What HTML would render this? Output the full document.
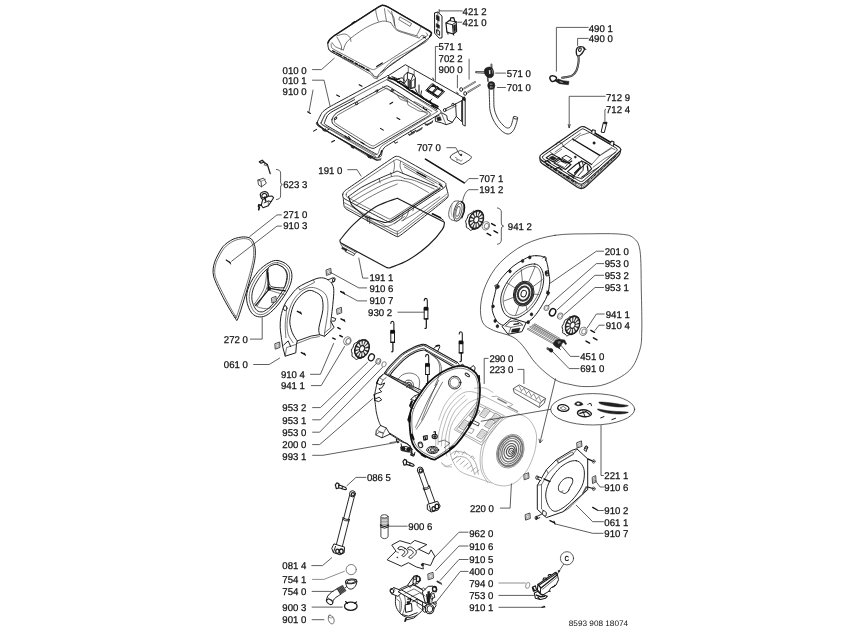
<!DOCTYPE html>
<html><head><meta charset="utf-8"><title>8593 908 18074</title>
<style>
html,body{margin:0;padding:0;background:#fff}
svg{display:block}
.t{font-family:"Liberation Sans",Arial,sans-serif;font-size:9.8px;fill:#111;stroke:#111;stroke-width:.25;text-rendering:geometricPrecision}
.t2{font-family:"Liberation Sans",Arial,sans-serif;font-size:8px;fill:#111;text-rendering:geometricPrecision}
.t3{font-family:"Liberation Sans",Arial,sans-serif;font-size:7.4px;font-weight:bold;fill:#111;text-rendering:geometricPrecision}
.p{fill:none;stroke:#1c1c1c;stroke-width:.95;stroke-linejoin:round;stroke-linecap:round}
.pw{fill:#fff;stroke:#1c1c1c;stroke-width:.95;stroke-linejoin:round;stroke-linecap:round}
.pt{fill:none;stroke:#2c2c2c;stroke-width:.65;stroke-linejoin:round;stroke-linecap:round}
.pk{fill:none;stroke:#111;stroke-width:1.5;stroke-linejoin:round;stroke-linecap:round}
.pf{fill:#222;stroke:#111;stroke-width:.5;stroke-linejoin:round}
.g{fill:none;stroke:#9a9a9a;stroke-width:.7;stroke-linejoin:round;stroke-linecap:round}
.gw{fill:#fff;stroke:#9a9a9a;stroke-width:.7;stroke-linejoin:round;stroke-linecap:round}
.l{fill:none;stroke:#2a2a2a;stroke-width:.75;stroke-linejoin:round;stroke-linecap:round}
.lg{fill:none;stroke:#6a6a6a;stroke-width:.75;stroke-linejoin:round;stroke-linecap:round}
</style></head>
<body>
<svg style="filter:grayscale(1)" width="847" height="635" viewBox="0 0 847 635">
<rect width="847" height="635" fill="#fff"/>
<path class="g" d="M491.2 482.9C488.8 482 481.6 479.6 476.4 477.6C471.1 475.7 463.9 474.3 459.8 471C455.7 467.7 453.4 463 451.5 457.8C449.7 452.6 448.6 445.7 448.9 439.6C449.2 433.5 450 427.4 453.2 421.4C456.4 415.4 462.9 407.7 468.1 403.5C473.3 399.4 481.9 397.7 484.6 396.6L521.02 414.78"/>
<path class="gw" d="M521 414.8C523.9 415.6 527.6 417.7 530.1 420.6C532.6 423.5 534.9 428.4 535.9 432.1C536.9 435.9 536.6 439.2 536.2 442.9C535.9 446.6 535.2 450.3 533.9 454.5C532.6 458.6 530.6 463.8 528.5 467.7C526.3 471.6 523.6 474.9 521 477.6C518.4 480.3 515.8 482.5 512.8 483.9C509.7 485.3 506.3 486.1 502.8 485.9C499.4 485.7 495.1 484.9 492.1 482.9C489 481 486.3 477.7 484.6 474.3C482.9 471 482.2 466.9 482 462.8C481.8 458.6 482.4 453.7 483.3 449.5C484.2 445.4 485.7 441.7 487.6 437.9C489.5 434.2 492.1 430.4 494.9 427.2C497.7 424 501.5 420.9 504.5 418.9C507.5 417 510 416.1 512.8 415.4C515.5 414.8 518.1 413.9 521 414.8Z"/>
<path class="g" d="M484.6 396.6C482.4 395.8 475.5 391.9 471.4 391.6C467.3 391.3 463.9 391.9 459.8 394.9C455.7 398 450 403.7 446.6 409.8C443.1 415.9 440.6 425.5 439.1 431.3C437.7 437.1 438.2 442.3 438 444.6"/>
<path class="g" d="M464.8 395.3C462.4 397.7 454.4 403.8 450.7 409.8C447.1 415.8 444.5 425.3 442.9 431.3C441.4 437.4 441.6 443.7 441.3 446.2"/>
<path class="g" d="M467.3 399.1C465.1 401.3 457.5 406.8 454 412.3C450.6 417.8 448 426.2 446.6 432.1C445.1 438.1 445.2 443.9 445.3 447.9C445.3 451.9 446.6 454.8 446.9 456.1"/>
<path class="g" d="M474.7 388.3C476.4 388.3 481.6 387.3 484.6 388C487.7 388.7 491.5 391.7 492.9 392.4"/>
<path class="g" d="M441.6 462.8C442.4 463.3 444.9 465.8 446.6 466.1C448.2 466.3 450.7 464.7 451.5 464.4"/>
<path class="g" d="M502.8 416.4C500.9 418.1 494.4 422.5 491.2 426.4C488.1 430.2 485.8 434.9 484 439.6C482.2 444.3 480.8 449.2 480.3 454.5C479.9 459.7 480.1 466.3 481.3 471C482.6 475.7 486.8 480.7 487.9 482.6"/>
<path class="g" d="M454.5 429.3 L476.4 402.2 L504.5 415.8 L482 444.9Z" style="stroke:#888"/>
<path class="g" d="M456.8 429 L477.2 404.9 L501.5 416.8 L481.3 442.1Z" style="stroke:#888"/>
<path class="gw" d="M459 427 L464.3 419.7 L469.6 422.7 L463.9 429.7Z" style="stroke:#777;stroke-width:0.8"/>
<path class="g" d="M460.8 426.2 L464.3 421.6 L467.6 423.4 L463.9 427.9Z" style="stroke:#aaa;stroke-width:0.5;fill:#d9d9d9"/>
<path class="gw" d="M469.4 415.4 L474.7 408.2 L480 411.1 L474.4 418.1Z" style="stroke:#777;stroke-width:0.8"/>
<path class="g" d="M471.2 414.6 L474.7 410 L478 411.8 L474.4 416.3Z" style="stroke:#aaa;stroke-width:0.5;fill:#d9d9d9"/>
<path class="gw" d="M479.7 415.1 L485 407.8 L490.2 410.8 L484.6 417.8Z" style="stroke:#777;stroke-width:0.8"/>
<path class="g" d="M481.5 414.3 L485 409.6 L488.3 411.5 L484.6 415.9Z" style="stroke:#aaa;stroke-width:0.5;fill:#d9d9d9"/>
<path class="gw" d="M489.9 420.4 L495.2 413.1 L500.5 416.1 L494.9 423.1Z" style="stroke:#777;stroke-width:0.8"/>
<path class="g" d="M491.7 419.6 L495.2 414.9 L498.5 416.8 L494.9 421.2Z" style="stroke:#aaa;stroke-width:0.5;fill:#d9d9d9"/>
<path class="gw" d="M484.6 425.7 L489.9 418.4 L495.2 421.4 L489.6 428.3Z" style="stroke:#777;stroke-width:0.8"/>
<path class="g" d="M486.4 424.9 L489.9 420.2 L493.2 422.1 L489.6 426.5Z" style="stroke:#aaa;stroke-width:0.5;fill:#d9d9d9"/>
<path class="gw" d="M476.7 436.3 L482 429 L487.3 432 L481.6 438.9Z" style="stroke:#777;stroke-width:0.8"/>
<path class="g" d="M478.5 435.4 L482 430.8 L485.3 432.6 L481.6 437.1Z" style="stroke:#aaa;stroke-width:0.5;fill:#d9d9d9"/>
<path class="g" d="M470.2 428 L474.2 429.7 L471.6 433.6 L468.6 432.3" style="stroke:#777"/>
<path class="pw" d="M473.4 420.4 L479.3 423.4 L478.3 426 L472.4 423.1Z" style="stroke:#444"/>
<path class="g" d="M492.1 396.6 L496.5 396.2 L512.8 404.5 L509.4 406.5" style="stroke:#888"/>
<path class="g" d="M497.9 398.9 L506.1 403.2" style="stroke-width:1.4;stroke:#777"/>
<path class="g" d="M507.8 406.2 L517.7 411.5" style="stroke-width:1.2;stroke:#888"/>
<ellipse class="g" cx="510.3" cy="451.2" rx="13.2" ry="17.4" transform="rotate(22 510.3 451.2)" style="stroke:#777"/>
<ellipse class="g" cx="510.3" cy="451.2" rx="11.6" ry="15.4" transform="rotate(22 510.3 451.2)" style="stroke-dasharray:0.9 0.8;stroke-width:2;stroke:#777"/>
<ellipse class="g" cx="510.3" cy="451.2" rx="9.8" ry="13.2" transform="rotate(22 510.3 451.2)" style="stroke:#666;stroke-width:0.9"/>
<ellipse class="g" cx="510.3" cy="451.2" rx="8" ry="10.8" transform="rotate(22 510.3 451.2)" style="stroke-dasharray:1.6 0.9;stroke-width:1.5;stroke:#7a7a7a"/>
<ellipse class="g" cx="510.3" cy="451.2" rx="6" ry="8" transform="rotate(22 510.3 451.2)" style="stroke:#555;stroke-width:1.1"/>
<ellipse class="g" cx="510.8" cy="451.2" rx="4.2" ry="5.4" transform="rotate(22 510.8 451.2)" style="stroke:#555;stroke-width:1.3"/>
<ellipse class="gw" cx="511.3" cy="451.2" rx="2.4" ry="3" transform="rotate(22 511.3 451.2)" style="stroke:#444;stroke-width:1.1"/>
<ellipse class="g" cx="511.7" cy="451.4" rx="1" ry="1.3" transform="rotate(22 511.7 451.4)" style="stroke:#444"/>
<path class="g" d="M450.7 454.5C451.7 453.9 453.6 451.2 456.5 451.2C459.4 451.2 464.9 452.6 468.1 454.5C471.3 456.4 473.8 459.4 475.5 462.8C477.2 466.1 477.9 472.4 478.3 474.3" style="stroke:#888"/>
<path class="g" d="M452.4 459.8C453.6 459.2 457.1 456.4 459.8 456.5C462.6 456.5 466.4 457.3 468.9 460.3C471.4 463.2 473.7 472 474.7 474.3" style="stroke:#888"/>
<path class="g" d="M452.9 459.8 L457.2 456.1" style="stroke:#888"/>
<path class="g" d="M456.5 462.1 L460.8 458.4" style="stroke:#888"/>
<path class="g" d="M460.1 464.4 L464.4 460.8" style="stroke:#888"/>
<path class="g" d="M463.8 466.7 L468.1 463.1" style="stroke:#888"/>
<path class="g" d="M467.4 469 L471.7 465.4" style="stroke:#888"/>
<path class="g" d="M471.1 471.4 L475.4 467.7" style="stroke:#888"/>
<path class="g" d="M474.7 473.7 L479 470" style="stroke:#888"/>
<path class="g" d="M454.5 454.5 L456.2 450.8 L459.1 453.2" style="stroke:#888"/>
<path class="g" d="M462.3 454.5 L464.1 451.5 L466.4 453.8" style="stroke:#888"/>
<path class="g" d="M470.6 457.8 L472.4 455.8 L474.4 458.6" style="stroke:#888"/>
<path class="g" d="M441.6 462.8C442.2 463.4 443.3 465.7 444.9 466.4C446.6 467.1 450.4 466.8 451.5 466.9"/>
<path class="p" d="M383.1 374.4C382.5 375.1 379.1 377.8 378 380.1C377 382.4 375.7 389.2 375.2 391.7C374.7 394.2 374.4 397.6 374.4 398.8C374.3 400 374.7 398.9 374.9 400.7C375.2 402.4 375.8 409.3 376.3 412C376.8 414.7 378 419 378.6 420.8C379.2 422.6 380.3 424.8 380.6 425.5"/>
<path class="p" d="M380.6 425.5 L376.3 430.4 L375.8 434.9 L382 437.8 L389.9 434.1 L397.9 439.2 L402.1 442 L407.5 443.5 L412.5 449.6"/>
<path class="p" d="M380.6 425.5 L386.2 427.9 L389.9 434.1"/>
<path class="pt" d="M377.8 430.7 L383.4 433.2 L386.2 427.9"/>
<path class="pt" d="M375.8 434.9 L379.2 432.1 L383.4 433.2 L382 437.8"/>
<path class="p" d="M383.1 374.4 L379.2 377.5 L376.6 383.2 L380.6 384.9 L384.8 382.9 L382 387.7 L378.9 388.8 L381.7 391.7 L377.8 393.1 L374.1 394.5 L375.2 399 L379.2 397.1 L381.7 399.9 L378.6 401.6 L374.9 400.5"/>
<path class="pt" d="M379.2 377.5 L383.1 380.1 L386.2 377.5"/>
<path class="pt" d="M380.6 384.9 L383.1 380.1"/>
<path class="pk" d="M376.6 383.2 L378 380.1" style="stroke-width:1.1"/>
<path class="pk" d="M374.1 394.5 L374.9 400.5" style="stroke-width:1.1"/>
<path class="p" d="M384.4 373.4C385.1 372.4 386.3 370 388.9 367.1C391.5 364.3 398.1 357.1 401.8 354.1C405.5 351.1 410.5 348.8 413.6 347.3C416.6 345.9 420.4 344.8 422.2 344.4C423.9 344 424.9 344.6 425.4 344.6" style="stroke-width:1.1"/>
<path class="p" d="M385.7 373.8C386.4 372.9 387.7 370.6 390.2 367.8C392.8 365 399.1 358 402.6 355.1C406.2 352.3 411.1 349.9 414.1 348.5C417.1 347.1 421 346.1 422.7 345.7C424.4 345.4 424.8 346.1 425.2 346.1" style="stroke-width:0.8"/>
<path class="p" d="M388.3 374.7C388.9 373.8 390.2 371.7 392.6 369.1C395 366.5 401 360 404.4 357.3C407.8 354.6 412.3 352.2 415.2 350.9C418.1 349.5 421.9 348.5 423.4 348.3C425 348.1 425.1 349.2 425.4 349.4" style="stroke-width:0.8"/>
<path class="p" d="M390 375.3C390.6 374.5 391.8 372.4 394.1 369.9C396.4 367.4 402.2 361.2 405.4 358.6C408.7 355.9 413.2 353.4 415.9 352.1C418.7 350.9 422.2 350.2 423.8 350C425.3 349.8 426 350.9 426.4 351.1" style="stroke-width:1.1"/>
<path class="p" d="M425.4 344.6 L457.5 362.6" style="stroke-width:1.1"/>
<path class="p" d="M425.2 346.1 L456.5 363.7" style="stroke-width:0.8"/>
<path class="p" d="M425.4 349.4 L454.1 365.4" style="stroke-width:0.8"/>
<path class="p" d="M426.4 351.1 L452.4 366.3" style="stroke-width:1.1"/>
<path class="p" d="M457.5 362.6C457.8 362.9 458.8 363.6 459 364.1C459.2 364.7 459.1 365.6 458.8 366.1C458.6 366.5 457.7 366.8 457.5 366.9"/>
<path class="p" d="M384.4 373.4 L420 393.7" style="stroke-width:1.1"/>
<path class="p" d="M387 373.8 L421.1 392.2" style="stroke-width:0.5"/>
<path class="p" d="M390 375.3 L422.2 390.7" style="stroke-width:1.0"/>
<path class="pt" d="M384.4 373.4 L385.3 371.7 L386.4 372.1"/>
<path class="p" d="M433.4 348.7 L437.2 345.3 L439.3 345.3 L439.9 346.8 L437.7 351.1"/>
<path class="pk" d="M436.1 346.1 L439.3 345.5" style="stroke-width:1.5"/>
<path class="pt" d="M422.2 345.7 L423.4 344.9 L424.9 345.9"/>
<path class="pt" d="M397 380.6C397.9 379.6 400.1 376.1 402.3 374.9C404.6 373.6 407.9 372.9 410.4 373.1C412.8 373.2 415.5 374.4 417 375.7C418.6 377.1 419.3 379.1 419.6 381.3C419.9 383.5 418.9 387.8 418.7 389.1"/>
<path class="p" d="M403.1 383.9C403.7 383.3 405.3 380.9 406.7 380.4C408.1 379.9 410.3 380.2 411.4 380.9C412.5 381.6 413.2 383.2 413.4 384.5C413.6 385.8 412.8 387.9 412.7 388.6" style="stroke:#444"/>
<path class="pk" d="M405 385.4C405.4 384.9 406.7 383 407.6 382.6C408.5 382.2 409.9 382.5 410.6 383C411.3 383.6 411.6 384.9 411.7 385.8C411.7 386.7 411.1 387.9 411 388.4" style="stroke-width:1.2;stroke:#555"/>
<path class="pk" d="M406.9 387.1C407.2 386.8 407.9 385.4 408.4 385.2C408.9 384.9 409.7 385.3 409.9 385.8C410.2 386.3 409.9 387.6 409.9 387.9" style="stroke-width:1.4;stroke:#333"/>
<path class="pt" d="M390 375.3C390.5 375.7 392.1 377 393.2 377.9C394.4 378.7 396.3 380.1 397 380.6"/>
<path class="pt" d="M430.7 354.3C431.8 355.2 435.7 357.5 437.2 359.6C438.7 361.8 439.5 364.5 439.7 367.1C440 369.8 439.7 372.7 438.9 375.7C438.1 378.8 435.7 383.8 435 385.4"/>
<path class="pt" d="M433.9 356C434.8 357 438.1 359.8 439.3 361.8C440.6 363.8 441.2 366.1 441.4 368.2C441.7 370.4 440.7 373.6 440.6 374.7"/>
<path class="pt" d="M438.7 380.3C437.7 382.2 434.9 387.4 433 391.7C431.1 395.9 429.2 401.1 427.3 405.8C425.4 410.6 422.6 417.6 421.7 420"/>
<path class="p" d="M419.9 393.9C422.2 390.6 425.7 385.5 429 382.2C432.3 378.9 437.9 374.5 441.7 372.2C445.5 369.9 451 367.7 454.3 366.8C457.6 365.9 460.8 365.8 463.4 366.2C466 366.6 469.5 368.2 471.5 369.5C473.5 370.8 475.8 372.7 477 374.9C478.2 377.1 479.3 380.7 479.7 384C480.1 387.3 480 392.9 479.7 396.7C479.4 400.4 478.3 406 477.6 409C476.9 412 476.4 413.7 475 416.5C473.6 419.3 470.7 424.5 468.6 427.8C466.5 431.1 463.4 435.5 461.2 438.4C459 441.3 456.2 444.7 453.8 446.9C451.4 449.1 447.7 451.6 445.3 453.3C442.9 455 439.2 457.1 437.6 458C436 458.9 435.6 459.5 434.6 459.6C433.6 459.7 432.3 459.2 431.2 458.8C430.1 458.4 428.8 457.8 427.2 457C425.6 456.2 422.7 454.8 420.8 453.3C418.9 451.8 415.8 449 414.4 446.9C413 444.8 412 442.6 411.3 439.4C410.6 436.2 409.9 429.4 409.7 425.6C409.5 421.8 409.4 417.3 410 414C410.6 410.7 412.1 406.9 413.6 403.9C415.1 400.9 417.6 397.2 419.9 393.9Z" style="stroke-width:1.8;stroke:#111"/>
<path class="pt" d="M421.6 395.5C423.7 392.4 426.9 387.4 429.9 384.3C433 381.2 438.2 376.8 441.8 374.5C445.4 372.2 450.7 370 453.8 369.1C457 368.1 460.1 368 462.6 368.4C465.1 368.7 468.4 370.2 470.4 371.5C472.3 372.7 474.4 374.6 475.6 376.7C476.7 378.8 477.7 382.4 478 385.6C478.3 388.7 478.1 394.2 477.7 397.8C477.3 401.4 476.1 406.7 475.4 409.5C474.6 412.3 474 413.9 472.7 416.5C471.4 419.1 468.4 423.8 466.5 426.8C464.6 429.8 461.8 433.9 459.8 436.6C457.8 439.3 455.3 442.5 453.1 444.7C450.9 446.9 447.5 449.3 445.2 451C443 452.7 439.5 454.8 438 455.7C436.4 456.7 436 457.2 435.1 457.4C434.2 457.5 432.9 457 431.9 456.6C430.8 456.2 429.6 455.7 428.1 454.9C426.6 454.1 423.9 452.8 422 451.4C420.2 449.9 417.3 447.3 416 445.3C414.7 443.3 413.8 441.1 413.2 438.1C412.6 435.1 412.1 428.6 411.9 425C411.8 421.4 411.7 417.2 412.3 414.2C412.9 411.1 414.3 407.6 415.7 404.8C417.1 402 419.5 398.5 421.6 395.5Z"/>
<path class="pk" d="M410.1 414.3 L408.4 420" style="stroke-width:2.2"/>
<path class="pk" d="M411.8 401.6 L410.1 405.8" style="stroke-width:2.2"/>
<path class="pk" d="M410.1 416.2 L409.5 421.9" style="stroke-width:2.2"/>
<path class="pk" d="M411.8 434.7 L413.5 439.2" style="stroke-width:2.2"/>
<path class="pk" d="M421.7 454.5 L425.2 456.6" style="stroke-width:2.2"/>
<path class="pk" d="M450 448.8 L453.6 446.3" style="stroke-width:2.2"/>
<path class="pk" d="M469.1 425.5 L471 421.9" style="stroke-width:2.2"/>
<path class="p" d="M419.7 393.9 L414.6 395.9 L410.6 399.5 L414.6 400.5 L417.7 397.3"/>
<path class="p" d="M413.2 404.4 L410.1 407.3 L413.2 408.4"/>
<path class="pt" d="M414.6 395.9 L416.3 398.2"/>
<path class="p" d="M458.5 366.4 L462.8 364.1 L464.5 366.7"/>
<path class="p" d="M469.1 369 L473.4 365.5 L475.2 367.9 L474.1 372.1"/>
<path class="pk" d="M477.6 376.1 L479.2 375.8 L479.5 380.1" style="stroke-width:1.4"/>
<ellipse class="pw" cx="454.7" cy="382.6" rx="6.2" ry="6.4"/>
<ellipse class="pt" cx="454.7" cy="382.6" rx="4.7" ry="4.9"/>
<ellipse class="p" cx="467.3" cy="374.9" rx="2.6" ry="1.1" transform="rotate(35 467.3 374.9)"/>
<path class="pt" d="M437.1 384C436.2 385.5 433.6 390 432 393C430.4 396 429.5 397.2 427.2 402C424.9 406.8 420 417.8 418 422C416 426.2 415.8 426.5 415.4 427.4"/>
<path class="pt" d="M442.5 382.2C441.6 383.8 438.6 389 437 392C435.4 395 434.9 395.9 432.6 400.3C430.4 404.7 426.2 413.6 423.5 418.4C420.8 423.2 417.5 427.4 416.3 429.2"/>
<path class="g" d="M461.3 388.1C459.9 389.2 455.7 391.6 452.8 394.5C450 397.5 446.7 401.6 444.3 405.8C442 410.1 439.6 417.6 438.7 420"/>
<ellipse class="p" cx="432.7" cy="450" rx="6" ry="3.6" style="stroke-width:1"/>
<ellipse class="p" cx="432.7" cy="450" rx="4.4" ry="2.4"/>
<ellipse class="p" cx="432.7" cy="450.1" rx="2.6" ry="1.3"/>
<path class="pt" d="M438.7 441.8 L444.3 440.1 L450 443.2 L444.3 447.7"/>
<path class="g" d="M435.8 437.5 L435.8 446"/>
<ellipse class="pw" cx="434.7" cy="436.4" rx="2.6" ry="2.2" style="stroke-width:1.1"/>
<ellipse class="pf" cx="434.7" cy="436.6" rx="1.3" ry="1.1"/>
<path class="pk" d="M433.9 432.1 L435.3 431.6 L435.6 434.7" style="stroke-width:1.1"/>
<path class="p" d="M423.4 436.4 L427.1 435.5 L427.3 439.2 L423.9 440.1Z" style="stroke-width:1.2"/>
<path class="pk" d="M425.1 436.9 L425.6 439.8" style="stroke-width:1.1"/>
<ellipse class="p" cx="420.5" cy="444.9" rx="2.2" ry="2.8" transform="rotate(-20 420.5 444.9)"/>
<path class="pt" d="M418.8 443.9 L421.4 442.9 L422.2 445.4"/>
<path class="p" d="M390 433.3 L396.4 437.3 L410.2 446"/>
<path class="pt" d="M390 442.6 L395.3 441.8 L397.4 439.6"/>
<path class="p" d="M396.4 439.4 L397 442.8 L398.9 442.4"/>
<ellipse class="pf" cx="403.4" cy="448.8" rx="1.9" ry="1.7"/>
<ellipse class="pf" cx="408.7" cy="449.6" rx="2.1" ry="2.2"/>
<path class="p" d="M401.1 446.9 L405.9 446.5 L411.2 448.2 L411.9 452.2 L407 451.8 L401.5 450.5Z"/>
<path class="p" d="M411.8 452.2 L412.3 455.6 L414.6 454.5"/>
<ellipse class="p" cx="412.3" cy="454.5" rx="1" ry="1.2"/>
<path class="p" d="M401.1 443.9 L402.1 449.6 L407.5 451.4 L410.6 448.8 L410.1 446"/>
<ellipse class="pf" cx="403.2" cy="448.6" rx="1.6" ry="1.4"/>
<path class="pf" d="M406.9 448.3 L409.2 449.4 L409.5 451.1 L407.2 450.5Z"/>
<path class="p" d="M396.4 439.2 L397 441.8 L399 441.1"/>
<path class="p" d="M411.8 451 L410.6 455.2 L413.9 456.2 L414.9 452.4"/>
<path class="pw" d="M327.8 43.2C328.1 42.2 327.8 40.2 332 37.1C336.3 34.1 374.5 9.4 378.8 6.8C383.1 4.2 382.7 5.4 383.5 5.4C384.3 5.4 384.5 5 388.3 7.1C392.1 9.2 425.8 28.6 429.4 30.9C433 33.1 431.3 33.4 431.2 34C431.2 34.6 433 34.8 428.8 38C424.6 41.2 385.2 69.3 380.9 72.5C376.7 75.8 378.4 76.9 377.8 77.2C377.2 77.5 374.2 76.3 373.6 75.8C372.9 75.3 373 73.5 369.6 71.5C366.2 69.6 336.4 54.6 333 52.7C329.6 50.8 329.2 49.7 328.8 48.9C328.3 48.1 327.5 44.2 327.8 43.2Z"/>
<path class="pt" d="M426.3 32.9C426.4 33 427.5 34.5 427.4 34.9C427.3 35.2 429.3 34.4 425.1 37.1C421 39.9 381.7 65 377.4 67.7C373 70.4 373.4 69.4 372.7 69.4C372 69.4 372 69.6 368.9 68C365.7 66.4 338 51.6 334.9 49.9C331.8 48.2 331.9 48 331.6 47.5C331.3 47 331.1 44.2 331.1 43.9"/>
<path class="p" d="M328.2 42.5C328.6 42.1 328 40.2 332.2 37.3C336.4 34.3 374.5 9.6 378.8 6.9C383.1 4.3 382.7 5.5 383.5 5.5C384.3 5.6 384.5 5.1 388.3 7.2C392.1 9.4 425.8 28.8 429.4 31C432.9 33.3 431.1 33.5 431.1 34C431.1 34.5 429.8 36.3 429.7 36.5" style="stroke-width:1.5"/>
<path class="pt" d="M375.5 9.3C375.7 10.4 376.2 13.6 376.7 15.6C377.1 17.6 378.1 20.3 378.4 21.2"/>
<path class="pt" d="M384.5 8.8C384.6 9.9 385.1 13.5 385.5 15.6C385.8 17.7 386.4 20.3 386.6 21.2"/>
<path class="pt" d="M391.6 11.3C391.8 12.5 392.4 16.1 393 18.4C393.5 20.8 394.5 24.3 394.8 25.5"/>
<path class="pt" d="M420.9 27.2C420.4 28.2 418.5 32.1 417.8 33.4C417 34.8 416.6 35.1 416.3 35.4"/>
<path class="pt" d="M328.8 48.9C328.9 49.1 327.2 49.2 330.6 51.3C334 53.4 366 71.5 369.6 73.7C373.2 75.9 373.2 77.5 373.8 77.9C374.5 78.4 377.5 78.7 377.8 78.8"/>
<path class="pt" d="M343.4 49.9C344.2 48.3 344.4 44.2 348.3 40.4C352.2 36.6 361.1 30.4 366.8 27.2C372.4 24 378.3 22 382.3 21.2C386.4 20.5 389.4 22.4 390.8 22.7"/>
<path class="pt" d="M390.8 22.7C391.8 23.9 394.1 28.3 396.5 30C398.9 31.8 401.2 32 405 33.3C408.8 34.6 416.8 37.2 419.2 38"/>
<path class="pt" d="M387.7 10.2C388.7 11.3 392.5 14.3 393.7 17C394.9 19.7 394.1 24 395.1 26.2C396 28.5 395.6 28.8 399.3 30.5C403.1 32.1 414.7 35.2 417.8 36.1"/>
<path class="pt" d="M337 35.7C338.3 35.4 342.7 33.8 344.8 34C346.9 34.2 348.7 35.9 349.8 37.1C350.8 38.3 350.7 40.7 350.9 41.4"/>
<path class="pt" d="M337 37.1C337.7 38.5 340.5 43.2 341.2 45.3C342 47.5 341.2 49.1 341.2 49.9"/>
<path class="pt" d="M332 42.5C332.6 43.2 333.7 45.5 335.6 46.8C337.5 48 342.1 49.4 343.4 49.9"/>
<path class="pt" d="M419.2 38C419.7 37.5 420.9 35.7 422 35.4C423.1 35.2 425 36.4 425.6 36.5"/>
<path class="pt" d="M400.2 17 L411.5 23.5 L410.1 26.4 L399.1 19.8Z"/>
<path class="pt" d="M380.9 72.5C382.2 71.2 389.3 62.5 393.7 59.5C398.1 56.5 421.3 44.7 424.9 42.5C428.4 40.3 428.4 38.4 428.8 38"/>
<path class="pt" d="M377.8 77.2C378.3 76.9 381 75 382.3 73.7C383.6 72.4 387.2 67.2 390.8 64.5C394.5 61.7 415.7 48.4 419.2 46C422.7 43.7 424.9 41.6 425.6 41.1"/>
<path class="pk" d="M332.5 50.7 L368.9 70.4" style="stroke-dasharray:3 1.6 1 1.2 4 2;stroke-width:1.3"/>
<path class="pk" d="M376.7 66.6 L382.3 63" style="stroke-width:1.2"/>
<path class="pk" d="M351.9 23.4 L354.7 21.5" style="stroke-width:1.1"/>
<path class="pk" d="M423.1 37.1 L425.6 38" style="stroke-width:1.1"/>
<path class="p" d="M387.3 76.3 L405.4 64.7 L464.1 98"/>
<path class="pt" d="M408.3 66.4 L408.3 74.6"/>
<path class="pt" d="M414.2 70.6 L414.2 82.2"/>
<path class="pk" d="M419 85 L419 93.3" style="stroke-width:1"/>
<path class="pk" d="M432.7 78 L433.8 79.6" style="stroke-width:1"/>
<path class="pk" d="M456.7 92.1 L458.2 93.8" style="stroke-width:1"/>
<path class="pw" d="M462.6 99 L462.6 124.7 L465.2 126.1 L465.2 101.1Z"/>
<path class="pf" d="M462.4 97.5 L464.5 96.8 L465.7 99 L465.2 101.1 L462.9 99.9Z"/>
<path class="pw" d="M317.1 122.6C317.3 121.7 321.2 113.7 322.1 112.6C322.9 111.5 325.9 108.9 330.1 106.6C334.3 104.2 381.4 79 385.3 77.1C389.3 75.1 385.8 74.7 389.3 76.9C392.9 79 435.1 106.4 438.5 108.8C441.9 111.2 440.9 112.2 440.9 112.6C440.9 113 442.2 112.3 438.5 114.6C434.8 116.9 389.1 144 385.3 146.7C381.5 149.5 381.9 155.2 381.3 155.9C380.7 156.7 377.1 158.1 376.3 157.9C375.4 157.8 372.1 156.4 368.2 154.3C364.4 152.3 322.5 128.8 319.1 126.6C315.7 124.5 316.9 123.6 317.1 122.6Z"/>
<path class="pt" d="M321.1 122.6C321.3 121.9 324.4 115.1 325.1 114.2C325.8 113.3 328.1 111.5 332.1 109.2C336.2 106.9 382.1 82 385.9 80.1C389.7 78.1 386.1 78.1 389.3 80.1C392.6 82.1 431.8 108 434.9 110.2C438 112.3 439.2 110.2 435.7 112.6C432.2 114.9 386.5 142.6 382.7 145.3C378.9 148 378.8 152.7 378.3 153.3C377.7 154 375.3 154.9 374.7 154.7C374.1 154.6 372.7 153.3 369.2 151.3C365.8 149.3 325.7 126.5 322.5 124.6C319.3 122.7 320.9 123.3 321.1 122.6Z"/>
<path class="p" d="M332.1 119.2C332.3 118.4 333.7 114.7 337.1 112.6C340.6 110.4 380.4 88.8 383.9 87.1C387.4 85.4 386.3 85.3 389.3 86.9C392.3 88.5 425.7 109.9 428.5 111.8C431.2 113.6 430.2 114.2 430.1 114.6C429.9 115 429.8 115.2 426.5 117.2C423.2 119.2 384.2 142.2 380.7 144.3C377.2 146.4 374.7 148.2 373.9 148.3C373 148.5 370.9 148.3 368.2 146.7C365.6 145.1 336.1 126.5 333.7 124.6C331.3 122.8 331.9 120 332.1 119.2Z"/>
<path class="pt" d="M334.5 119.4C334.7 118.8 335.8 116.2 339.1 114.2C342.5 112.2 381 91 384.3 89.3C387.6 87.7 386 87.8 388.7 89.3C391.5 90.9 423 110.9 425.4 112.6C427.9 114.3 429.1 113 426.1 115C423 117 383.4 140.2 379.9 142.3C376.4 144.4 374.2 145.8 373.5 145.9C372.7 146 371.5 145.8 369.1 144.3C366.6 142.8 338.4 125.5 336.1 123.8C333.8 122.2 334.3 120.1 334.5 119.4Z"/>
<path class="pt" d="M354.6 97.6C353 98.4 332.3 109 330.4 110.1C328.4 111.2 325.9 113.7 325.3 114.5C324.7 115.3 321.6 121.6 321.5 122.4C321.4 123.2 320.3 123.6 323.9 125.9C327.5 128.2 372.4 154.6 375.8 156.6"/>
<path class="p" d="M354.6 99.7C353.1 100.5 333.7 110.7 331.9 111.8C330.1 112.8 327.9 114.9 327.4 115.7C326.9 116.4 324.5 122.1 324.5 122.7C324.4 123.4 323.3 123.3 326.8 125.5C330.3 127.6 373.7 152.7 377 154.6"/>
<path class="pk" d="M317.4 122.7 L318.2 124.8 L322.7 128.3 L325.7 130.4 L377 160.2 L380.6 159.7" style="stroke-width:1.1"/>
<path class="pf" d="M322.2 128.8 L323.2 130.7 L325.5 131.6 L326.2 130.2Z" style="fill:#444"/>
<path class="pf" d="M350.6 145.5 L351.5 147.4 L353.9 148.4 L354.6 146.9Z" style="fill:#444"/>
<path class="pf" d="M367.7 155.7 L368.6 157.6 L371 158.5 L371.7 157.1Z" style="fill:#444"/>
<path class="pf" d="M345.1 135.7 L346.6 136.6 L346.1 137.7 L344.7 136.9Z"/>
<path class="pf" d="M348.9 137.7 L350.6 138.7 L350.1 139.9 L348.4 138.9Z"/>
<path class="pk" d="M361.1 142.2 L364 143.9" style="stroke-width:1.2"/>
<path class="pk" d="M378.8 156.4 L380.6 154 L381.7 150.5" style="stroke-width:1.2"/>
<path class="pt" d="M317.1 122.6C317.1 122.8 314.8 123 318.1 125.2C321.3 127.4 362.4 153 366.2 155.3C370.1 157.7 374.9 159.8 375.9 160C376.9 160.2 380.9 158.5 381.3 158.3"/>
<path class="p" d="M443.8 109.6 L455.6 103.9 L461.7 100.7"/>
<path class="pt" d="M444.7 111.5 L456.3 105.8"/>
<path class="p" d="M455.6 103.9 L456.3 116.4 L461.7 121.6 L461.7 100.7"/>
<path class="p" d="M456.3 116.4 L452.3 122.3 L447.5 120 L446.7 115.5 L442 112.9"/>
<path class="p" d="M439 115.5 L435.2 116.9 L435.5 121.4 L441.4 122.8 L446.1 124.7 L450.8 123.2 L452.3 122.3"/>
<path class="pf" d="M436.7 117.8 L440.2 116.7 L441.4 120.2 L437.6 120.8Z"/>
<path class="pt" d="M441.4 113.1 L443.8 119 L446.1 124.7"/>
<ellipse class="pw" cx="453" cy="104.6" rx="1.2" ry="1.4"/>
<ellipse class="pw" cx="444.7" cy="110.1" rx="1.3" ry="1.5"/>
<path class="p" d="M426 123.8 L427 125.4 L432.2 122.6 L432.7 120.9"/>
<path class="pk" d="M427 124.7 L431.7 122.1" style="stroke-width:1.1;stroke:#444"/>
<path class="p" d="M415.4 130.2 L416.4 131.9 L421.6 129.1 L422 127.4"/>
<path class="pk" d="M416.4 131.2 L421.1 128.6" style="stroke-width:1.1;stroke:#444"/>
<path class="p" d="M408.3 133.8 L409.3 135.4 L414.5 132.6 L414.9 131"/>
<path class="pk" d="M409.3 134.7 L414 132.1" style="stroke-width:1.1;stroke:#444"/>
<path class="pw" d="M404.2 75.3 L407.4 72.4 L413.3 74.4 L415.4 77.7 L415.2 87.4 L410.9 88.6 L407.4 87.2 L404.2 83.6Z" style="stroke-width:1"/>
<path class="p" d="M407.4 72.4 L407.4 78.9 L410.9 80.7 L413.3 74.4"/>
<path class="p" d="M407.4 78.9 L404.2 83.6"/>
<path class="p" d="M410.9 80.7 L410.9 88.6"/>
<path class="pf" d="M407.9 80.1 L410.5 81.5 L410.5 87.9 L407.9 86.7Z" style="fill:#555"/>
<path class="pt" d="M411.6 81.2 L414.5 78.9 L414.5 86.7 L411.6 87.9Z"/>
<path class="pw" d="M426 90.2 L431.9 83.6 L444.7 91.6 L438.1 98Z" style="stroke-width:1"/>
<path class="p" d="M427.7 90.2 L432.4 85.3 L436.4 87.9 L431.9 92.8Z" style="stroke-width:1.1"/>
<path class="p" d="M432.9 93.5 L437.4 88.6 L442.6 91.6 L437.9 96.6Z" style="stroke-width:1.1"/>
<path class="pk" d="M427.7 90.2 L431.9 92.8 L432.9 93.5 L437.9 96.6" style="stroke-width:1.6"/>
<path class="pk" d="M433.4 84.3 L435.5 87.2" style="stroke-width:1.3"/>
<path class="pk" d="M437.4 86.9 L439 89.3" style="stroke-width:1.3"/>
<path class="pk" d="M441.4 89.3 L442.8 91.4" style="stroke-width:1.3"/>
<path class="pk" d="M388.3 77.7 L395.4 80.1 L403.6 85.4 L409.5 90.1 L419 95.4 L427.2 100.7 L437.9 106.6" style="stroke-width:1.7;stroke-dasharray:3.5 1.2 1.5 0.9 5 1.4 0.9 0.9"/>
<path class="p" d="M387.1 79.8 L401.2 87.4 L415.4 96.6 L429.6 105.1 L436.7 109.6"/>
<path class="p" d="M391.8 76.5 L397.7 78.9 L402.4 77.7 L404.2 80.7"/>
<path class="pk" d="M393 77.7 L396.5 79.8 L399.5 78.9" style="stroke-width:1.2"/>
<path class="p" d="M415.4 88.9 L417.8 94.2 L420.7 95.4 L421.6 90.9"/>
<path class="p" d="M421.6 95.4 L423.9 99 L429.6 101.6 L431.9 99"/>
<path class="pf" d="M422.1 96.6 L424 97.8 L423.6 99 L421.7 97.8Z"/>
<path class="pf" d="M425.7 98.7 L427.6 99.9 L427.1 101.1 L425.2 99.9Z"/>
<path class="pf" d="M429.2 100.6 L431.1 101.8 L430.6 103 L428.8 101.8Z"/>
<path class="pk" d="M397.7 82.4 L400.1 81 L403.6 83.1" style="stroke-width:1.2"/>
<path class="pk" d="M405.4 86.7 L408.3 88.3" style="stroke-width:2"/>
<path class="pk" d="M411.9 90.9 L415.4 93.1" style="stroke-width:2"/>
<path class="pk" d="M431.9 105.5 L437.9 108.4" style="stroke-width:1.6"/>
<path class="pt" d="M382.4 86.7C383.2 87.1 389.1 90.1 390.6 90.9C392.2 91.8 396.1 94.6 397.7 95.4C399.3 96.2 405.9 98 406.9 99C407.9 99.9 407.1 103.7 407.9 104.6C408.6 105.6 413.1 107.8 414.2 108.4C415.4 109 417.7 110.6 419 111C420.3 111.4 426.4 112.1 427.2 112.2"/>
<path class="pt" d="M397.7 95.4C397.9 95.8 399.1 98.3 400.1 99C401 99.6 406.2 101.3 406.9 101.6"/>
<path class="pt" d="M414.2 101.6 L419 103.9 L427.2 108.6 L431.9 111.5"/>
<path class="pk" d="M423.4 107.2 L424.4 109.1 L426.8 109.6" style="stroke-width:1"/>
<path class="pk" d="M391.8 89.5 L393.2 90.9" style="stroke-width:1"/>
<path class="p" d="M375.5 91.1 L376.9 89.7 L378.3 90.5 L377.3 91.9Z"/>
<path class="p" d="M355.4 103.8 L356.8 102.3 L358.2 103.2 L357.2 104.6Z"/>
<path class="p" d="M334.3 118.4 L335.7 117 L337.1 117.8 L336.1 119.2Z"/>
<path class="p" d="M346.8 137.9 L348.2 136.5 L349.6 137.3 L348.6 138.7Z"/>
<path class="p" d="M390.9 90.7 L392.3 89.3 L393.7 90.1 L392.7 91.5Z"/>
<path class="p" d="M351.6 145.9 L352.4 147.7 L354.8 146.5"/>
<path class="p" d="M367.6 155.5 L368.4 157.3 L370.9 156.2"/>
<path class="p" d="M394.3 141.5 L395.1 143.3 L397.6 142.1"/>
<path class="p" d="M410.8 130.9 L411.6 132.7 L414 131.5"/>
<path class="p" d="M424.9 123.4 L425.6 125.2 L428.1 124"/>
<path class="p" d="M325.5 128.8 L326.3 130.7 L328.7 129.4"/>
<path class="pk" d="M359.2 84.7 L362 86.3" style="stroke-width:1.1"/>
<path class="pk" d="M336.7 94.9 L339.5 96.5" style="stroke-width:1.1"/>
<path class="pk" d="M389.9 104 L392.7 102.3" style="stroke-width:1.1"/>
<path class="pk" d="M396.9 117.8 L399.8 119.4" style="stroke-width:1.1"/>
<path class="pk" d="M380.5 128.4 L383.3 130.1" style="stroke-width:1.1"/>
<path class="pk" d="M313.6 131.1 L316.5 129.4" style="stroke-width:1.1"/>
<path class="pk" d="M331.7 142.1 L334.5 140.5" style="stroke-width:1.1"/>
<path class="pk" d="M307.6 111.8 L310.4 113.4" style="stroke-width:1.1"/>
<path class="pk" d="M464.4 88.3 L475 82" style="stroke-width:1.9;stroke:#555"/>
<path class="pk" d="M464.4 88.3 L475 82" style="stroke-width:0.7;stroke:#ddd"/>
<path class="pk" d="M468.3 91.9 L479.8 85" style="stroke-width:1.9;stroke:#555"/>
<path class="pk" d="M468.3 91.9 L479.8 85" style="stroke-width:0.7;stroke:#ddd"/>
<ellipse class="p" cx="461.2" cy="89.5" rx="1.5" ry="1.8" style="stroke-width:1"/>
<ellipse class="p" cx="465.2" cy="93.5" rx="1.5" ry="1.8" style="stroke-width:1"/>
<path class="pw" d="M343.2 195.3C343.3 196 343.5 203.6 343.8 204.6C344 205.5 343.9 207.6 347 209.5C350.2 211.4 387.6 231.8 391 233.6C394.3 235.4 396.6 236.7 397.3 236.7C398.1 236.7 399 236.4 402.3 233.9C405.6 231.4 443.2 201.6 446.2 198.9C449.3 196.2 447.9 194.1 447.9 193.2C447.9 192.3 445.9 185.9 445.8 185.4"/>
<path class="pt" d="M344.4 202.7C347.5 204.4 387.4 226.9 391 228.8C394.5 230.7 396.4 231.3 397.1 231.3C397.8 231.3 398 231.5 401.3 229.1C404.6 226.6 443.6 196.5 446.6 194.2"/>
<path class="pt" d="M345.6 206.7C348.7 208.3 387.5 229.5 391 231.3C394.4 233.1 396.4 233.9 397.1 233.9C397.8 233.9 398.3 234.1 401.6 231.6C404.9 229.1 443.9 199.1 446.9 196.8"/>
<path class="pt" d="M397.3 231.6 L397.3 236.4"/>
<path class="pt" d="M369.7 216.6 L369.7 223.7"/>
<path class="pt" d="M367.6 217.7 L367.6 221.6"/>
<path class="pw" d="M342.8 194.2C342.9 193.6 343 192.1 346.3 189.7C349.7 187.3 389.4 160.1 392.8 157.9C396.2 155.7 396.5 156.4 397.1 156.4C397.6 156.4 398.5 156.2 401.6 157.9C404.7 159.6 440.9 180 443.8 181.7C446.8 183.5 445.9 184.3 445.8 184.7C445.7 185.2 446.4 186.2 443 188.5C439.6 190.9 398.3 218 394.8 220.3C391.3 222.5 390.9 222.2 390.3 222.3C389.7 222.3 388.7 222.1 385.7 220.6C382.7 219 347.8 200.8 344.9 199C342.1 197.3 342.7 194.8 342.8 194.2Z"/>
<path class="pt" d="M346.3 194.2C346.4 193.7 346 192.9 349.2 190.7C352.3 188.4 390.5 162.8 393.7 160.8C396.9 158.7 396.6 159.6 397.1 159.6C397.5 159.6 397.9 159.5 400.7 161.1C403.6 162.6 437.4 181.5 440.1 183.2C442.9 184.8 441.6 185.1 441.6 185.4C441.5 185.7 442.5 185.6 439.3 187.7C436.1 189.8 396.7 215.1 393.4 217.2C390.1 219.2 390.2 218.8 389.7 218.9C389.2 218.9 388.8 218.9 386 217.4C383.2 216 350.7 199.2 348 197.6C345.4 196.1 346.3 194.7 346.3 194.2Z"/>
<path class="p" d="M348.6 196.5C350.4 195.2 357.7 189.6 361.9 187.1C366.2 184.7 376.1 180 380.3 178.1C384.5 176.1 391.1 173.6 393.4 172.7C395.7 171.8 396.3 171.1 397.6 171.2C398.9 171.4 397.7 171.4 403 173.5C408.3 175.6 432.7 185.3 437.3 187.1"/>
<path class="pt" d="M349.7 199C351.6 197.9 359.4 192.7 363.3 190.4C367.2 188.1 375.1 183.7 378.9 181.9C382.7 180 389.1 177.4 391.7 176.6C394.3 175.9 396.7 175.8 398.5 176.1C400.2 176.3 403.9 178.3 404.7 178.6"/>
<path class="pt" d="M352 202.1C353.8 201 361.5 196.1 365.5 193.9C369.4 191.7 377.9 187.2 381.8 185.4C385.6 183.6 391.9 181.1 394.5 180.5C397.2 179.8 400.6 180.5 401.6 180.5"/>
<path class="pt" d="M356.2 205.5C357.9 204.5 365.2 199.6 369 197.5C372.8 195.3 380.8 191.2 384.6 189.4C388.4 187.6 395.6 184.7 397.3 184"/>
<path class="pt" d="M393.7 160.8C393.8 161.6 394.6 163.6 394.5 165.6C394.5 167.6 393.6 171.5 393.4 172.7"/>
<path class="pt" d="M400.7 161.1C400.6 162 399.8 164.9 400.2 167C400.5 169.1 402.5 172.4 403 173.5"/>
<path class="pt" d="M390.5 172.7 L391.7 176.6"/>
<path class="pt" d="M379.2 179.1 L380.1 182.9"/>
<path class="pt" d="M404.7 178.6C406.3 178.9 409.4 178.7 414.3 180.5C419.3 182.2 430.9 187.5 434.2 189"/>
<path class="pt" d="M401.6 180.5C403.2 180.9 407 181.3 411.5 183.3C416 185.3 425.7 191 428.5 192.5"/>
<path class="pt" d="M403 164.2 L437 183.3"/>
<path class="pt" d="M404.4 167 L434.2 184"/>
<path class="pk" d="M417.2 172.4 L425.7 176.9" style="stroke-width:1.5"/>
<path class="pk" d="M439.1 184 L442.7 187.1" style="stroke-width:1.2"/>
<path class="p" d="M348.6 196.5C348.9 197.2 350.6 203.6 352 205.3C353.4 206.9 362.7 214.9 365.5 216.3C368.2 217.8 382.5 222.2 384.6 222.5C386.7 222.9 389.4 221.6 391 220.8C392.5 220 398.9 215.6 403 212.9C407.1 210.2 437 190.6 440.1 188.5" style="stroke-width:1.1"/>
<path class="pt" d="M365.5 216.3C365.7 216.7 366.3 220 367.9 220.8C369.5 221.7 382.6 226.2 384.6 226.5C386.6 226.8 390 225.6 391.7 224.8C393.3 224 403.4 217.3 404.4 216.6"/>
<path class="pt" d="M403 212.9C402.8 213.8 403 216.2 401.6 218C400.2 219.8 395.7 222.7 394.5 223.7"/>
<path class="pt" d="M408.7 209.5C408.4 210.5 408.2 213.3 407.3 215.2C406.3 217.1 403.7 219.9 403 220.8"/>
<path class="pt" d="M414.3 205.5 L412.9 210.9"/>
<path class="pt" d="M401.6 220.8C403.7 219.7 408 217.8 414.3 213.8C420.7 209.7 435.6 199.6 439.9 196.8"/>
<path class="p" d="M340.1 239.9C342.4 237.2 348.1 229.4 354.1 223.9C360.1 218.3 369 210.9 376.2 206.6C383.4 202.3 393.8 199.6 397.3 198.2L444.45 222.26L444.4 222.3C444.1 223.4 445.1 225.4 442.4 229.3C439.8 233.1 434.1 240.2 428.4 245.3C422.7 250.5 414.6 256.3 408.3 260C402 263.7 393.6 266.4 390.6 267.6Q389.25 268.43 387.02 267.64L340.58 242.85Q339.75 241.53 340.07 239.92Z" style="stroke-width:1.15"/>
<path class="pt" d="M340.7 243.8 L354.8 251.6"/>
<path class="pt" d="M340.9 244.8 L342.4 246.7"/>
<path class="p" d="M346.9 249.6 L354.8 253.8 L353.6 255.7 L345.5 251.6Z" style="stroke-width:0.8"/>
<path class="pf" d="M342.4 246.9 L347.2 249.4 L346.2 251.1 L341.6 248.6Z"/>
<path class="pt" d="M354.8 251.6 L356.6 252.4 L354.8 253.8"/>
<path class="pk" d="M432.4 213.8 L440.4 217.8" style="stroke-width:1.6"/>
<path class="p" d="M440.4 217.8 L443.4 220.2"/>
<path class="p" d="M235.1 317.9C233 315.2 226.2 303.6 223.2 297.7C220.2 291.9 214.8 281.2 213.6 276.2C212.4 271.3 213.3 266.3 214.6 262.2C215.9 258.1 220.3 250 222.8 246.8C225.4 243.6 230.2 240.6 233.1 239.2C236 237.8 241.3 236.9 243.8 236.9C246.4 236.9 249.7 237.5 251.3 238.9C252.8 240.2 254.4 243.7 254.9 246.5C255.4 249.3 255.6 254.3 254.9 258.9C254.2 263.5 252.3 271.4 250 279.6C247.6 287.7 240.5 311.9 238.4 317.2C236.3 322.6 237.2 320.6 235.1 317.9Z" style="stroke-width:1"/>
<path class="pt" d="M235.1 315.6C233.4 313.1 227.6 302.6 224.8 297.1C222.1 291.6 216.5 281.1 215.2 276.2C214 271.4 215 266.6 216.2 262.7C217.5 258.8 221.7 251.2 224.2 248.1C226.6 245.1 231.2 242.2 233.9 240.9C236.7 239.5 241.5 238.6 243.8 238.6C246.1 238.5 249 239.3 250.3 240.5C251.6 241.7 252.8 244.6 253.3 247.2C253.7 249.7 254 254.2 253.3 258.7C252.6 263.2 250.6 271.3 248.3 279.2C246 287.1 238.9 310 237.1 315.1C235.2 320.2 236.8 318.1 235.1 315.6Z"/>
<path class="pk" d="M226.2 260 L230.1 262.7" style="stroke-width:1.1"/>
<path class="pk" d="M229.8 262 L230.6 264" style="stroke-width:0.9"/>
<path class="pw" d="M277.7 260.5C280.8 261 285.3 262.8 287.6 265.2C290 267.5 291.7 270.8 291.9 274.6C292.2 278.4 291.2 282.9 289 287.8C286.7 292.7 282 299.6 278.6 304C275.1 308.4 271.3 312.1 268.1 314.3C265 316.4 262.3 317.1 259.6 316.9C256.8 316.7 253.8 315.7 251.6 312.9C249.5 310.1 247.1 304.7 246.7 300.2C246.2 295.7 247 291 249 286.2C250.9 281.3 254.9 275.2 258.2 271.3C261.6 267.4 265.9 264.5 269.1 262.7C272.4 260.9 274.6 260.1 277.7 260.5Z" style="stroke-width:1"/>
<path class="pt" d="M277.4 262.7C280.1 263 284 264.6 286 266.6C288 268.7 289.5 271.5 289.6 274.9C289.8 278.3 289.1 282.4 287 287C284.9 291.6 280.3 298.2 277.1 302.4C273.8 306.5 270.3 309.9 267.5 311.9C264.7 314 262.5 314.8 260.2 314.6C257.9 314.4 255.4 313.4 253.6 310.9C251.8 308.5 249.7 303.7 249.3 299.7C248.9 295.7 249.5 291.4 251.3 287C253 282.5 256.8 276.6 259.9 272.9C263 269.2 266.9 266.4 269.8 264.7C272.7 263 274.7 262.4 277.4 262.7Z"/>
<path class="p" d="M276.7 264.7C279.1 264.9 282.6 266.5 284.3 268.3C286.1 270.1 287.2 272.4 287.3 275.4C287.4 278.4 286.9 281.9 285 286.2C283.1 290.4 278.8 296.8 275.7 300.7C272.7 304.6 269.3 307.8 266.8 309.6C264.3 311.5 262.7 312.1 260.9 311.9C259 311.8 257.1 311.1 255.6 309C254.1 306.9 252.3 302.9 251.9 299.4C251.6 295.9 252 291.9 253.6 287.8C255.2 283.7 258.7 278.1 261.5 274.6C264.3 271.1 267.9 268.3 270.4 266.6C273 265 274.4 264.4 276.7 264.7Z"/>
<path class="pw" d="M267.8 270C268 268.2 268.6 267.1 269.8 266.3C270.9 265.6 274.5 264.1 276.4 264.3C278.3 264.6 282.6 266.8 284 268.3C285.4 269.8 286.8 273.2 287 275.4C287.2 277.6 285.9 283.2 285.3 284.8C284.8 286.5 284.6 287.6 282.7 287.8C280.8 288 273 287.6 271.1 286.5C269.2 285.4 268.9 281.8 268.5 279.6C268 277.3 267.6 271.7 267.8 270Z"/>
<path class="pt" d="M266.5 271.3C266.4 272.9 266.4 277.9 265.8 281.2C265.2 284.5 264.7 287.3 262.9 291.1C261 294.9 256 301.9 254.6 304"/>
<path class="pt" d="M268.5 272.9C268.4 274.6 268.7 279.5 268.1 282.9C267.5 286.2 266.6 288.9 264.8 292.8C263 296.6 258.5 303.8 257.2 306"/>
<path class="pt" d="M271.1 288.5C272.5 288.8 276.9 290 279.4 290.4C281.9 290.9 284.9 291 286 291.1"/>
<path class="pt" d="M270.4 290.4C271.7 290.8 275.5 292.1 277.7 292.8C280 293.4 283 294.1 284 294.4"/>
<path class="pt" d="M254.6 304C255.4 304.6 256.8 307 259.6 307.6C262.3 308.2 267.3 309.8 271.1 307.6C275 305.4 280.8 296.6 282.7 294.4"/>
<ellipse class="pf" cx="269.1" cy="288.5" rx="1.6" ry="2"/>
<path class="pk" d="M267.1 270 L268.5 287.1" style="stroke-width:1.1"/>
<path class="pk" d="M270.4 288.5 L285.3 290.8" style="stroke-width:1.1"/>
<path class="pk" d="M268.5 289.8 L255.6 305.3" style="stroke-width:1.1"/>
<path class="pw" d="M271.9 297.9 L275.9 296.3 L276.3 301.3 L272.3 302.9Z" style="stroke-width:0.9;stroke:#333"/>
<path class="pw" d="M273.1 299.1 L274.9 297.9 L275.1 300.3 L273.3 301.5Z" style="stroke-width:0.5;stroke:#666;fill:#e4e4e4"/>
<path class="pw" d="M281.6 339.3C281.4 337.4 280.4 331.5 280.2 327.7C280.1 323.9 280.2 320.3 280.9 316.5C281.6 312.6 283 308 284.6 304.6C286.1 301.2 287.9 299.2 290.2 296.3C292.5 293.4 294.6 290 298.4 287.2C302.3 284.5 309.5 281.4 313.3 279.8C317.2 278.2 319.1 277.8 321.6 277.8C324 277.8 326.4 278.8 328.2 279.8C329.9 280.8 331.2 282.1 332.1 283.9C333.1 285.7 333.7 287.1 333.8 290.5C333.9 294 333.3 299.4 332.8 304.6C332.3 309.7 331.2 318.6 330.8 321.4L334.13 327.4L324.55 336.32L319.59 334.67L319.6 334.7C319.5 333.5 318.4 331.9 318.9 327.7C319.5 323.5 322.4 314.6 322.9 309.6C323.3 304.5 322.9 300.1 321.6 297.1C320.2 294.2 316.9 292.8 314.6 291.7C312.4 290.6 310.5 289.9 308 290.7C305.5 291.5 302.2 293.7 299.8 296.3C297.3 298.9 294.8 302.1 293.1 306.2C291.5 310.4 290 316.7 289.8 321.1C289.7 325.5 291.1 329.4 292.3 332.7C293.6 336 296.4 339.6 297.3 340.9L296.45 344.26L295.79 352.85L285.21 356.16L282.89 347.56Z" style="stroke-width:1"/>
<path class="pt" d="M324.6 332.7C325.1 328.8 327.6 315.7 327.9 309.6C328.1 303.4 327.9 298.9 326.2 295.5C324.5 292.1 320.8 290.2 317.9 288.9C315 287.6 312 287 308.8 287.7C305.7 288.5 301.9 290.5 298.9 293.4C296 296.2 293.1 300 291.2 304.6C289.2 309.2 287.7 316.2 287.2 321.1C286.7 326.1 287.2 330.8 288.2 334.3C289.2 337.9 292.3 341.2 293.1 342.6"/>
<path class="pt" d="M284.6 304.6C284.9 305.4 286.4 306.2 286.5 309.6C286.6 312.9 285.3 319.7 285.2 324.4C285.1 329.1 285.8 335.4 285.9 337.6"/>
<path class="pt" d="M298.4 287.2 L299.8 290 L314.6 282.3 L313.3 279.8"/>
<path class="p" d="M297.3 340.9 L311.3 336 L319.6 334.7"/>
<path class="pt" d="M297.3 343.4 L311.3 338 L319.3 336.6"/>
<path class="pt" d="M324.6 336.3 L324.6 332.7 L330.8 327.7 L330.8 321.4"/>
<path class="pt" d="M285.2 356.2 L286.5 347.6 L296.4 344.3"/>
<path class="p" d="M283.6 345.1 L288.2 340.9 L290.7 346.7"/>
<ellipse class="pw" cx="285.2" cy="308.2" rx="1.8" ry="2.4"/>
<path class="pw" d="M328.2 279.8 L332.8 277.8 L334.8 279.5 L333.8 281.8 L331.5 282.4"/>
<ellipse class="p" cx="333.8" cy="279.8" rx="1.2" ry="2" transform="rotate(20 333.8 279.8)"/>
<path class="pw" d="M332.5 317.5 L335.8 318.6 L334.8 321.1 L331.8 321.1"/>
<path class="pk" d="M297.4 311.3 L300.8 313.1" style="stroke-width:1.5"/>
<path class="pk" d="M300.4 311.8 L301.4 314.2" style="stroke-width:0.9"/>
<path class="pk" d="M301.4 352.6 L304.8 354.4" style="stroke-width:1.5"/>
<path class="pk" d="M304.4 353.1 L305.4 355.5" style="stroke-width:0.9"/>
<path class="pk" d="M340.7 291.5 L344.1 293.3" style="stroke-width:1.5"/>
<path class="pk" d="M343.7 292 L344.7 294.4" style="stroke-width:0.9"/>
<path class="pk" d="M341 318.9 L344.4 320.7" style="stroke-width:1.5"/>
<path class="pk" d="M344 319.4 L345 321.8" style="stroke-width:0.9"/>
<path class="pk" d="M337.8 327.7 L340.1 328.9" style="stroke-width:1.5"/>
<path class="pk" d="M339.8 335.5 L342.4 336.8" style="stroke-width:1.5"/>
<path class="pk" d="M332.8 338.1 L335.1 339.1" style="stroke-width:1.5"/>
<path class="pw" d="M326.4 269.9 L330.8 268.3 L331.2 273.7 L326.8 275.3Z" style="stroke-width:0.9;stroke:#333"/>
<path class="pw" d="M327.6 271.1 L329.8 269.9 L330 272.7 L327.8 273.9Z" style="stroke-width:0.5;stroke:#666;fill:#e4e4e4"/>
<path class="pw" d="M337 308.9 L341.4 307.3 L341.8 312.7 L337.4 314.3Z" style="stroke-width:0.9;stroke:#333"/>
<path class="pw" d="M338.2 310.1 L340.4 308.9 L340.6 311.7 L338.4 312.9Z" style="stroke-width:0.5;stroke:#666;fill:#e4e4e4"/>
<path class="pw" d="M275.2 343.6 L279.6 342 L280 347.4 L275.6 349Z" style="stroke-width:0.9;stroke:#333"/>
<path class="pw" d="M276.4 344.8 L278.6 343.6 L278.8 346.4 L276.6 347.6Z" style="stroke-width:0.5;stroke:#666;fill:#e4e4e4"/>
<ellipse class="pw" cx="347.4" cy="340.9" rx="3.6" ry="4.2" transform="rotate(25 347.4 340.9)" style="stroke:#777"/>
<ellipse class="p" cx="348.2" cy="341.2" rx="2.2" ry="2.8" transform="rotate(25 348.2 341.2)" style="stroke:#777"/>
<path class="pw" d="M365.7 352.8C365.2 353.7 364 354.3 363.3 355.1C362.6 356 362.2 357.5 361.4 358.1C360.7 358.6 359.7 358.1 358.8 358.3C357.9 358.6 356.8 359.6 356.1 359.5C355.3 359.4 355 358.1 354.3 357.5C353.7 357 352.5 357.1 352.1 356.4C351.7 355.6 352.2 354.2 352.1 353.1C351.9 352.1 351.2 351.2 351.3 350.2C351.5 349.2 352.6 348.2 353.1 347.2C353.5 346.1 353.5 344.6 354.2 343.8C354.8 343 356 343 356.8 342.4C357.7 341.8 358.5 340.5 359.3 340.3C360.1 340 360.8 341 361.6 341.1C362.4 341.3 363.6 340.7 364.2 341.1C364.8 341.6 364.8 343.1 365.2 343.9C365.6 344.7 366.6 345.2 366.8 346.1C366.9 347 366 348.3 365.9 349.4C365.7 350.6 366.1 351.8 365.7 352.8Z" style="stroke-width:1"/>
<ellipse class="pf" cx="362" cy="348.8" rx="7" ry="9.8" transform="rotate(24 362 348.8)" style="fill:#2a2a2a;stroke-width:0.9"/>
<path class="pw" d="M364.5 350.4 L367 352 L366.5 353.2 L365.5 354 L363.8 351.4Z" style="stroke:none;fill:#f4f4f4"/>
<path class="pw" d="M363.2 352 L364.4 355.2 L363.5 356 L362.4 356.3 L362.2 352.5Z" style="stroke:none;fill:#f4f4f4"/>
<path class="pw" d="M361.6 352.7 L361.1 356.6 L360.1 356.9 L359.2 356.5 L360.6 352.7Z" style="stroke:none;fill:#f4f4f4"/>
<path class="pw" d="M360.1 352.4 L358.1 356 L357.2 355.6 L356.8 354.7 L359.4 351.7Z" style="stroke:none;fill:#f4f4f4"/>
<path class="pw" d="M359.1 351.1 L356.1 353.5 L355.6 352.5 L355.7 351.3 L358.8 350Z" style="stroke:none;fill:#f4f4f4"/>
<path class="pw" d="M358.9 349.2 L355.7 349.7 L355.8 348.4 L356.3 347.2 L359.2 348Z" style="stroke:none;fill:#f4f4f4"/>
<path class="pw" d="M359.5 347.2 L357 345.6 L357.5 344.4 L358.5 343.6 L360.2 346.2Z" style="stroke:none;fill:#f4f4f4"/>
<path class="pw" d="M360.8 345.6 L359.6 342.4 L360.5 341.6 L361.6 341.3 L361.8 345.1Z" style="stroke:none;fill:#f4f4f4"/>
<path class="pw" d="M362.4 344.9 L362.9 341 L363.9 340.7 L364.8 341.1 L363.4 344.9Z" style="stroke:none;fill:#f4f4f4"/>
<path class="pw" d="M363.9 345.2 L365.9 341.6 L366.8 342 L367.2 342.9 L364.6 345.9Z" style="stroke:none;fill:#f4f4f4"/>
<path class="pw" d="M364.9 346.5 L367.9 344.1 L368.4 345.1 L368.3 346.3 L365.2 347.6Z" style="stroke:none;fill:#f4f4f4"/>
<path class="pw" d="M365.1 348.4 L368.3 347.9 L368.2 349.2 L367.7 350.4 L364.8 349.6Z" style="stroke:none;fill:#f4f4f4"/>
<ellipse class="pw" cx="362" cy="348.8" rx="1.9" ry="2.6" transform="rotate(24 362 348.8)" style="stroke:none"/>
<ellipse class="p" cx="371.4" cy="357.3" rx="2.8" ry="3.6" transform="rotate(25 371.4 357.3)" style="stroke-width:1.3"/>
<ellipse class="p" cx="378.3" cy="361.3" rx="2.3" ry="2.9" transform="rotate(25 378.3 361.3)" style="stroke:#666"/>
<ellipse class="pt" cx="378.3" cy="361.3" rx="1.3" ry="1.8" transform="rotate(25 378.3 361.3)" style="stroke:#888"/>
<ellipse class="p" cx="384" cy="364.3" rx="2" ry="2.6" transform="rotate(25 384 364.3)" style="stroke:#888"/>
<path class="l" d="M555 235.3C566.2 233.5 580.9 234 591.9 233.8C602.9 233.6 614.1 233.5 621 234.2C627.9 234.9 630.3 235.2 633.5 238C636.7 240.8 638.7 242 640 250.7C641.3 259.4 641 276.8 641.3 290C641.6 303.2 642 320 641.8 330C641.5 340 641.8 343.3 639.8 350C637.8 356.7 635.1 364.7 629.5 370.4C623.9 376.1 613.2 381.3 606 384C598.8 386.7 592 386.5 586 386.6C580 386.7 575.2 385.6 570 384.4C564.8 383.2 560.6 383 555 379.6C549.4 376.2 542 369.9 536.6 364.3C531.2 358.7 526.9 350.4 522.8 345.8C518.7 341.2 517 339.2 512.1 336.6C507.2 334.1 498.6 332.8 493.7 330.5C488.8 328.2 485.1 326.9 482.9 322.8C480.7 318.7 480.1 312.3 480.6 305.9C481.1 299.5 482.8 291.6 486 284.5C489.2 277.4 493.4 269.6 499.8 263C506.2 256.4 515.2 249.2 524.4 244.6C533.6 240 543.8 237.1 555 235.3Z"/>
<path class="pw" d="M536.1 255.7C538.6 255.8 542.5 255.9 544.4 257.4C546.3 258.9 546.6 261.8 547.4 264.7C548.1 267.5 548.6 271.7 549 274.6C549.4 277.5 549.9 278.7 549.7 282C549.4 285.3 548.8 290.7 547.7 294.4C546.5 298.1 544.7 301 542.7 304.3C540.8 307.6 538.3 311.5 536.1 314.3C533.9 317 532.3 319.1 529.5 320.9C526.7 322.7 523.1 324.3 519.6 325.2C516.1 326.1 511.7 326.4 508.4 326.2C505 325.9 502 325.3 499.8 323.8C497.5 322.4 496.1 320.3 494.8 317.6C493.5 314.9 492.1 311.5 492.1 307.6C492.1 303.8 493.9 298.3 494.8 294.4C495.7 290.6 495.9 287.7 497.4 284.5C499 281.3 501.3 278.4 503.9 275.4C506.5 272.4 509.8 268.9 513 266.3C516.1 263.8 520.1 261.6 522.9 260C525.6 258.4 527.3 257.5 529.5 256.7C531.7 256 533.6 255.6 536.1 255.7Z" style="stroke-width:1"/>
<path class="p" d="M534.8 264C537.5 264.3 539.6 265.7 541.1 268.3C542.6 270.9 543.9 275.2 543.7 279.6C543.6 283.9 542.3 289.6 540.2 294.4C538.2 299.2 534.6 304.7 531.2 308.5C527.7 312.2 522.9 315.3 519.6 316.9C516.3 318.5 513.9 318.6 511.3 317.9C508.7 317.2 505.6 315.5 503.9 312.6C502.1 309.7 500.7 304.3 500.7 300.2C500.7 296.1 501.8 292.1 503.9 287.8C505.9 283.5 509.5 278.2 513 274.6C516.4 271 520.9 268.1 524.5 266.3C528.2 264.6 532 263.7 534.8 264Z"/>
<path class="pt" d="M534.1 266.3C536.5 266.6 538.2 267.7 539.4 270C540.6 272.2 541.6 276 541.4 279.9C541.2 283.8 540.3 289 538.4 293.4C536.6 297.8 533.3 302.8 530.2 306.3C527 309.8 522.6 312.8 519.6 314.3C516.6 315.7 514.2 315.9 512 315.2C509.7 314.6 507.5 313.1 506 310.6C504.5 308.1 503.1 303.9 503.1 300.2C503.1 296.5 504.2 292.5 506 288.5C507.9 284.5 511.1 279.6 514.3 276.2C517.5 272.9 521.9 270 525.2 268.3C528.5 266.7 531.8 266 534.1 266.3Z"/>
<path class="pt" d="M523.7 293.6 L535.3 266.3"/>
<path class="pt" d="M523.7 293.6 L542.4 279.6"/>
<path class="pt" d="M523.7 293.6 L539.1 294.4"/>
<path class="pt" d="M523.7 293.6 L527 310.1"/>
<path class="pt" d="M523.7 293.6 L515.5 315.1"/>
<path class="pt" d="M523.7 293.6 L503.9 301"/>
<path class="pt" d="M523.7 293.6 L507.2 282.9"/>
<path class="pt" d="M523.7 293.6 L521.2 269.6"/>
<ellipse class="pw" cx="523.7" cy="293.6" rx="10" ry="12.6" transform="rotate(18 523.7 293.6)" style="stroke-width:1"/>
<ellipse class="p" cx="523.7" cy="293.6" rx="8.4" ry="10.8" transform="rotate(18 523.7 293.6)" style="stroke-dasharray:1.6 1;stroke-width:2.4;stroke:#333"/>
<ellipse class="p" cx="523.7" cy="293.6" rx="5.6" ry="7.2" transform="rotate(18 523.7 293.6)" style="stroke-dasharray:1.2 0.9;stroke-width:2;stroke:#333"/>
<ellipse class="pw" cx="523.7" cy="293.6" rx="2.6" ry="3.4" transform="rotate(18 523.7 293.6)" style="stroke-width:1"/>
<ellipse class="pf" cx="529.8" cy="257.4" rx="1.3" ry="1.6"/>
<ellipse class="pf" cx="522.6" cy="261" rx="1.3" ry="1.6"/>
<ellipse class="pf" cx="510" cy="271.3" rx="1.3" ry="1.6"/>
<ellipse class="pf" cx="498.1" cy="286.5" rx="1.3" ry="1.6"/>
<ellipse class="pf" cx="493.1" cy="306.3" rx="1.3" ry="1.6"/>
<ellipse class="pf" cx="495.1" cy="320.9" rx="1.3" ry="1.6"/>
<ellipse class="pf" cx="497.4" cy="326.2" rx="1.3" ry="1.6"/>
<ellipse class="pf" cx="528.2" cy="322.2" rx="1.3" ry="1.6"/>
<ellipse class="pf" cx="531.5" cy="314.3" rx="1.3" ry="1.6"/>
<ellipse class="pf" cx="547.7" cy="292.8" rx="1.3" ry="1.6"/>
<ellipse class="pf" cx="546.4" cy="272.9" rx="1.3" ry="1.6"/>
<path class="p" d="M542.7 258.1 L544.7 256.1 L546.4 258.1 L545.4 260.5"/>
<path class="p" d="M545.7 271.3 L548.4 270.6 L548.7 275.6 L546.4 275.9Z"/>
<path class="p" d="M497.4 284.5 L494.8 285.5 L496.1 289.1 L498.4 287.8"/>
<path class="p" d="M547 291.1 L549.7 292.4 L548.4 295.1"/>
<path class="pw" d="M502.3 326.2 L511.5 318.2 L526.2 322.5 L521.9 331.7 L508.4 334.2Z" style="stroke-width:1"/>
<path class="p" d="M505.3 326.2C506.2 325.4 508.7 322 510.9 321.3C513 320.6 516.3 321.3 518.2 321.9C520.2 322.5 521.8 324.5 522.5 325"/>
<path class="pt" d="M508.4 334.2 L510.9 327.4 L522.5 325"/>
<path class="pt" d="M510.9 327.4 L505.9 326.2"/>
<path class="pf" d="M512.1 329.3 L520.1 328 L518.8 331.7 L511.5 332.3Z"/>
<path class="pk" d="M513.9 324.4 L518.8 323.7" style="stroke-width:1.2"/>
<ellipse class="p" cx="546.5" cy="307.9" rx="2.3" ry="2.7" transform="rotate(25 546.5 307.9)" style="stroke:#777"/>
<ellipse class="pt" cx="546.5" cy="307.9" rx="1.3" ry="1.6" transform="rotate(25 546.5 307.9)" style="stroke:#999"/>
<ellipse class="p" cx="552.6" cy="312.3" rx="2.9" ry="3.8" transform="rotate(25 552.6 312.3)" style="stroke-width:1.5;stroke:#111"/>
<ellipse class="p" cx="560.2" cy="316.1" rx="2.5" ry="3.1" transform="rotate(25 560.2 316.1)" style="stroke:#777"/>
<ellipse class="pt" cx="560.2" cy="316.1" rx="1.4" ry="1.9" transform="rotate(25 560.2 316.1)" style="stroke:#999"/>
<path class="pw" d="M576.2 329.1C575.7 330.1 574.5 330.6 573.8 331.5C573.1 332.4 572.7 333.9 572 334.4C571.2 335 570.2 334.5 569.3 334.7C568.4 335 567.4 336 566.7 335.9C565.9 335.7 565.6 334.5 564.9 333.9C564.3 333.4 563.1 333.5 562.7 332.8C562.4 332.1 562.8 330.6 562.7 329.6C562.6 328.5 561.9 327.6 562 326.6C562.2 325.6 563.3 324.7 563.7 323.6C564.2 322.5 564.2 321.1 564.9 320.3C565.5 319.5 566.6 319.4 567.5 318.8C568.3 318.2 569.1 316.9 569.9 316.7C570.7 316.5 571.4 317.4 572.2 317.5C573.1 317.7 574.2 317.1 574.8 317.5C575.4 318 575.3 319.5 575.7 320.3C576.2 321.1 577.2 321.5 577.3 322.5C577.4 323.4 576.6 324.7 576.4 325.8C576.2 326.9 576.6 328.2 576.2 329.1Z" style="stroke-width:1"/>
<ellipse class="pf" cx="572.6" cy="325.2" rx="6.9" ry="9.8" transform="rotate(24 572.6 325.2)" style="fill:#2a2a2a;stroke-width:0.9"/>
<path class="pw" d="M575.1 326.8 L577.5 328.3 L577 329.6 L576.1 330.4 L574.3 327.8Z" style="stroke:none;fill:#f4f4f4"/>
<path class="pw" d="M573.8 328.4 L574.9 331.5 L574 332.4 L573 332.7 L572.8 328.9Z" style="stroke:none;fill:#f4f4f4"/>
<path class="pw" d="M572.1 329.1 L571.7 333 L570.7 333.3 L569.8 332.9 L571.2 329.1Z" style="stroke:none;fill:#f4f4f4"/>
<path class="pw" d="M570.7 328.8 L568.7 332.4 L567.9 332.1 L567.4 331.1 L570 328.2Z" style="stroke:none;fill:#f4f4f4"/>
<path class="pw" d="M569.7 327.5 L566.8 329.9 L566.3 329 L566.3 327.7 L569.5 326.5Z" style="stroke:none;fill:#f4f4f4"/>
<path class="pw" d="M569.5 325.7 L566.4 326.1 L566.4 324.9 L567 323.6 L569.8 324.4Z" style="stroke:none;fill:#f4f4f4"/>
<path class="pw" d="M570.1 323.6 L567.7 322.1 L568.2 320.8 L569.1 320 L570.9 322.6Z" style="stroke:none;fill:#f4f4f4"/>
<path class="pw" d="M571.4 322 L570.3 318.9 L571.2 318 L572.2 317.7 L572.4 321.5Z" style="stroke:none;fill:#f4f4f4"/>
<path class="pw" d="M573.1 321.3 L573.5 317.4 L574.5 317.1 L575.4 317.5 L574 321.3Z" style="stroke:none;fill:#f4f4f4"/>
<path class="pw" d="M574.5 321.6 L576.5 318 L577.3 318.3 L577.8 319.3 L575.2 322.2Z" style="stroke:none;fill:#f4f4f4"/>
<path class="pw" d="M575.5 322.9 L578.4 320.5 L578.9 321.4 L578.9 322.7 L575.7 323.9Z" style="stroke:none;fill:#f4f4f4"/>
<path class="pw" d="M575.7 324.7 L578.8 324.3 L578.8 325.5 L578.2 326.8 L575.4 326Z" style="stroke:none;fill:#f4f4f4"/>
<ellipse class="pw" cx="572.6" cy="325.2" rx="1.9" ry="2.6" transform="rotate(24 572.6 325.2)" style="stroke:none"/>
<ellipse class="pw" cx="583.3" cy="331.3" rx="3.6" ry="4.2" transform="rotate(25 583.3 331.3)" style="stroke:#777"/>
<ellipse class="p" cx="583.9" cy="331.5" rx="2.1" ry="2.6" transform="rotate(25 583.9 331.5)" style="stroke:#888"/>
<path class="pk" d="M590.9 330.3 L594.5 332.3" style="stroke-width:1.4"/>
<path class="pk" d="M593.4 337.8 L597 339.8" style="stroke-width:1.4"/>
<path class="pk" d="M586 341.1 L589.6 343.1" style="stroke-width:1.4"/>
<path class="p" d="M528 328.9 L553.6 343.5" style="stroke-width:1.8;stroke:#5c5c5c"/>
<path class="p" d="M530.4 326.9 L555.9 341.5" style="stroke-width:1.8;stroke:#5c5c5c"/>
<path class="p" d="M532.7 325.4 L557.9 339.9" style="stroke-width:1.8;stroke:#5c5c5c"/>
<path class="p" d="M534.7 324.4 L559.5 338.7" style="stroke-width:1.8;stroke:#5c5c5c"/>
<path class="p" d="M528 328.9 L553.6 343.5" style="stroke-width:0.8;stroke:#f2f2f2"/>
<path class="p" d="M530.4 326.9 L555.9 341.5" style="stroke-width:0.8;stroke:#f2f2f2"/>
<path class="p" d="M532.7 325.4 L557.9 339.9" style="stroke-width:0.8;stroke:#f2f2f2"/>
<path class="p" d="M534.7 324.4 L559.5 338.7" style="stroke-width:0.8;stroke:#f2f2f2"/>
<path class="pf" d="M553.4 343.1 L555.9 340.3 L559.1 339.3 L562.2 339.8 L563.2 341.5 L561.5 344.6 L559.1 348.2 L555.9 347 L553.7 345Z"/>
<path class="pf" d="M562.2 339.8 L564.6 339.9 L566.6 343.9 L565.4 344.6 L563.8 342.3 L562.7 342.4Z"/>
<path class="pw" d="M557.5 341.5 L560.3 341.1 L560.7 343.1 L558.1 343.9Z" style="stroke:none;fill:#777"/>
<path class="pk" d="M559.1 348.2 L560.3 349.4" style="stroke-width:1"/>
<path class="pk" d="M547.7 348.6 L552 350.9" style="stroke-width:2.4;stroke:#3a3a3a"/>
<ellipse class="pf" cx="551.1" cy="350.3" rx="1.6" ry="1.9"/>
<path class="p" d="M547.4 348.1 L548.1 349.4" style="stroke:#666"/>
<path class="pw" d="M513.5 388.5 L519.2 384.9 L545.6 398.4 L544.3 403.1 L539.3 407.4 L514.5 392.8Z" style="stroke:#555"/>
<path class="pt" d="M513.5 388.5 L540 403.1 L545.6 398.4" style="stroke:#555"/>
<path class="pt" d="M540 403.1 L539.3 407.4" style="stroke:#555"/>
<path class="pt" d="M519.2 386.2 L521.5 390.8 L524.1 388.2" style="stroke:#555"/>
<path class="pt" d="M521.5 390.8 L520.8 392.5" style="stroke:#777"/>
<path class="pt" d="M524.1 388.9 L526.5 393.6 L529.1 390.9" style="stroke:#555"/>
<path class="pt" d="M526.5 393.6 L525.8 395.2" style="stroke:#777"/>
<path class="pt" d="M529.1 391.6 L531.4 396.3 L534 393.6" style="stroke:#555"/>
<path class="pt" d="M531.4 396.3 L530.7 397.9" style="stroke:#777"/>
<path class="pt" d="M534 394.4 L536.4 399 L539 396.4" style="stroke:#555"/>
<path class="pt" d="M536.4 399 L535.7 400.7" style="stroke:#777"/>
<path class="pt" d="M539 397.1 L541.3 401.7 L544 399.1" style="stroke:#555"/>
<path class="pt" d="M541.3 401.7 L540.7 403.4" style="stroke:#777"/>
<ellipse class="l" cx="592.7" cy="409.3" rx="42" ry="15.7"/>
<path class="p" d="M557.7 407.4C558 406.4 559.8 405 561.3 404.7C562.8 404.4 565.3 405 566.6 405.7C567.9 406.4 569.3 408.1 568.9 409C568.6 409.9 566.2 411.1 564.6 411.3C563.1 411.5 560.8 411 559.7 410.3C558.5 409.7 557.4 408.3 557.7 407.4Z" style="stroke-width:1.3"/>
<path class="pt" d="M560.5 407.7 L563.3 406.4 L566.3 408.7 L563.3 410Z"/>
<path class="pf" d="M574.5 404.1C574.5 403.4 576.4 402 577.5 401.7C578.7 401.5 580.6 402.2 581.5 402.7C582.4 403.2 583.4 404.2 582.8 404.7C582.2 405.2 579.2 405.8 577.9 405.7C576.5 405.6 574.6 404.7 574.5 404.1Z"/>
<ellipse class="pw" cx="578.2" cy="403.7" rx="1.6" ry="1" style="stroke:none"/>
<path class="p" d="M587.8 404.7 L589.1 403.4 L591.1 403.7 L591.4 405.7"/>
<path class="p" d="M577.5 412.6C577.7 411.6 579.5 410.3 581.2 410C582.9 409.7 586.1 410 587.8 410.7C589.5 411.3 591.5 413 591.4 414C591.3 415 588.8 416.3 586.9 416.6C585.1 416.9 581.9 416.6 580.3 415.9C578.8 415.3 577.4 413.6 577.5 412.6Z" style="stroke-width:1.4"/>
<path class="pk" d="M579.8 413.3 L586.1 411.6 L589.4 414.3" style="stroke-width:1.2"/>
<path class="p" d="M582.8 411 L584.8 415.9"/>
<path class="pf" d="M599.3 402.1C600.7 401.9 605.7 402.3 609.3 402.7C612.8 403.1 617.7 403.9 620.8 404.4C624 404.9 628.3 405.3 628.3 405.7C628.3 406.1 624 407 620.8 407C617.7 407.1 612.6 406.5 609.3 406C606 405.5 602.6 404.7 601 404.1C599.3 403.4 598 402.3 599.3 402.1Z"/>
<path class="pf" d="M597.7 409C598.8 408.9 604 410.2 607.6 410.7C611.2 411.1 615.7 411.4 619.2 411.6C622.6 411.9 628 411.9 628.3 412.3C628.5 412.7 624 413.8 620.8 414C617.7 414.1 612.6 413.8 609.3 413.3C606 412.9 602.9 412 601 411.3C599.1 410.6 596.6 409.1 597.7 409Z"/>
<path class="pk" d="M600.7 417.9 L604 416.6" style="stroke-width:1"/>
<path class="pk" d="M611.9 419.6 L615.5 418.3" style="stroke-width:1"/>
<path class="pw" d="M577 449 L587.7 458.9 L587.7 489.5 L562.9 511.8 L546.4 517.6 L537.3 509.3 L537.3 485.4 L546.4 469.7 L556.3 459.8 L571.2 450.7Z" style="stroke-width:1"/>
<path class="pt" d="M541.5 484.6 L541.5 509 L546.4 513.5"/>
<path class="pt" d="M537.3 485.4 L541.5 484.6 L548.1 473.3 L558.3 463.1 L572.9 454.1 L577 449"/>
<path class="pt" d="M556.3 459.8 L558.3 463.1"/>
<path class="pt" d="M546.4 469.7 L548.1 473.3"/>
<path class="pt" d="M557.6 460.4 L572.2 451.8 L573.8 454.1 L559.3 462.7Z"/>
<path class="p" d="M576.2 460.7C578.5 461.1 580.6 462.7 581.9 464.7C583.3 466.8 584.4 469.4 584.4 473C584.4 476.6 584.1 481.5 581.9 486.2C579.7 490.9 575.3 496.9 571.2 501.1C567.1 505.2 560.7 509.9 557.1 511C553.6 512.1 551.6 510.2 549.7 507.7C547.8 505.2 545.9 500.3 545.7 496.1C545.6 492 546.8 487.3 548.9 482.9C550.9 478.5 554.8 473.1 558 469.7C561.1 466.3 564.9 463.9 567.9 462.4C570.9 460.9 573.8 460.4 576.2 460.7Z"/>
<path class="pt" d="M587.7 489.5C586.6 490.6 584.1 493.1 581.1 496.1C578.1 499.2 572.6 505.1 569.5 507.7C566.5 510.3 564 511.1 562.9 511.8"/>
<path class="p" d="M572 478.3C573.1 479 572.9 480.9 572.5 482.6C572.1 484.2 570.3 486.7 569.5 488.2C568.8 489.7 568.7 490.6 567.9 491.5C567.1 492.4 565.6 493.4 564.6 493.5C563.5 493.6 562.5 492.6 561.6 492.1C560.7 491.7 559.5 491.8 559 490.8C558.5 489.8 558.2 487.8 558.6 486.2C559.1 484.6 560.3 482.6 561.6 481.2C562.9 479.9 564.5 478.4 566.2 477.9C568 477.4 571 477.5 572 478.3Z"/>
<path class="pt" d="M567.9 491.5 L569.5 489.5"/>
<path class="pt" d="M561.6 492.1 L562.9 490.5"/>
<path class="pw" d="M541.5 477.9 L537.3 476.3 L537.3 478.9 L540.8 480.6"/>
<ellipse class="pw" cx="537" cy="477.6" rx="1.2" ry="1.8"/>
<path class="pw" d="M543.1 510.7C543.7 510.3 545.6 511.4 546.1 512.3C546.5 513.2 546.3 515.6 545.7 516C545.2 516.3 543.2 515.5 542.8 514.6C542.3 513.7 542.5 511 543.1 510.7Z"/>
<path class="pw" d="M541.5 514.3 L536.5 516.6 L536.2 519.3 L539.8 517.6"/>
<ellipse class="p" cx="536.2" cy="517.9" rx="1.1" ry="1.7"/>
<path class="pw" d="M584.1 449.5 L585.4 446.5 L587.4 447.2 L586.4 451.2Z"/>
<ellipse class="p" cx="586.4" cy="447.5" rx="1.3" ry="1.6"/>
<path class="pk" d="M587.7 458.9 L593.5 461.4" style="stroke-width:1.2"/>
<ellipse class="p" cx="593.7" cy="461.4" rx="1.4" ry="1.8" style="stroke:#555"/>
<path class="pk" d="M587.7 487 L593.7 488.8" style="stroke-width:1.2"/>
<ellipse class="p" cx="593.7" cy="488.8" rx="1.4" ry="1.8" style="stroke:#555"/>
<path class="p" d="M582.8 493.6 L586.4 487" style="stroke-width:1.6;stroke:#555"/>
<path class="pk" d="M543.9 478.9 L550 481.6" style="stroke-width:1.3"/>
<path class="pk" d="M592.7 507.4 L597.3 510" style="stroke-width:1.3"/>
<path class="pk" d="M550 520.6 L554.7 522.9" style="stroke-width:1.4"/>
<path class="pk" d="M554 521.2 L555 524.2" style="stroke-width:1"/>
<path class="pw" d="M577.1 442.6 L581.5 440.9 L581.9 446.4 L577.5 447.9Z" style="stroke-width:0.9;stroke:#333"/>
<path class="pw" d="M578.3 443.8 L580.5 442.6 L580.7 445.4 L578.5 446.6Z" style="stroke-width:0.5;stroke:#666;fill:#e4e4e4"/>
<path class="pw" d="M524.2 474.3 L528.6 472.7 L529 478.1 L524.6 479.7Z" style="stroke-width:0.9;stroke:#333"/>
<path class="pw" d="M525.4 475.5 L527.6 474.3 L527.8 477.1 L525.6 478.3Z" style="stroke-width:0.5;stroke:#666;fill:#e4e4e4"/>
<path class="pw" d="M525.5 514.6 L529.9 513 L530.3 518.4 L525.9 520Z" style="stroke-width:0.9;stroke:#333"/>
<path class="pw" d="M526.7 515.8 L528.9 514.6 L529.1 517.4 L526.9 518.6Z" style="stroke-width:0.5;stroke:#666;fill:#e4e4e4"/>
<path class="pw" d="M592.5 477.2 L595.7 475.6 L596.1 481.8 L592.9 483.4Z" style="stroke-width:0.9;stroke:#333"/>
<path class="pw" d="M593.7 478.4 L594.7 477.2 L594.9 480.8 L593.9 482Z" style="stroke-width:0.5;stroke:#666;fill:#e4e4e4"/>
<path class="p" d="M350 493.7 L343.8 518"/>
<path class="p" d="M354.8 494.9 L348.6 519.2"/>
<path class="p" d="M343.2 517.8 L336.1 545.5"/>
<path class="p" d="M349.2 519.4 L342.2 547"/>
<path class="p" d="M342.8 517.7 Q345.8 520.1 349.6 519.5"/>
<path class="p" d="M342.4 519.2 Q345.4 521.6 349.2 520.9"/>
<ellipse class="pw" cx="352.5" cy="493.8" rx="2.9" ry="3.1" style="stroke-width:1"/>
<ellipse class="p" cx="352.9" cy="494.3" rx="1.5" ry="1.7" style="stroke-width:1.2"/>
<path class="pw" d="M334.3 544 L344.5 547.1 L344.2 552.7 L340.1 554.8 L333.4 552.6 L331.9 548.6Z" style="stroke-width:1"/>
<ellipse class="p" cx="341.3" cy="551.3" rx="1.9" ry="2.3" style="stroke-width:1.3"/>
<ellipse class="p" cx="337.4" cy="551.3" rx="1.7" ry="2.1" style="stroke-width:1.2"/>
<path class="p" d="M335.5 546.4 L333.5 552.1"/>
<path class="p" d="M418 471.5 L424 488"/>
<path class="p" d="M422.8 469.7 L428.7 486.3"/>
<path class="p" d="M423.6 488.1 L429.5 504.6"/>
<path class="p" d="M429.2 486.1 L435.2 502.6"/>
<path class="p" d="M423.2 488.3 Q426.9 488.6 429.6 486"/>
<path class="p" d="M423.7 489.7 Q427.4 490 430.1 487.4"/>
<ellipse class="pw" cx="420.2" cy="470.1" rx="2.9" ry="3.1" style="stroke-width:1"/>
<ellipse class="p" cx="420.7" cy="470.6" rx="1.5" ry="1.7" style="stroke-width:1.2"/>
<path class="pw" d="M427.7 504.3 L437.5 501.3 L440.2 506.1 L437.9 510.1 L431.2 512 L427.6 509.6Z" style="stroke-width:1"/>
<ellipse class="p" cx="436.9" cy="506.5" rx="1.9" ry="2.3" style="stroke-width:1.3"/>
<ellipse class="p" cx="433.7" cy="508.8" rx="1.7" ry="2.1" style="stroke-width:1.2"/>
<path class="p" d="M429.4 505.8 L431 511.6"/>
<path class="pw" d="M335.3 484.8 L336.9 482.8 L338.9 483.8 L338.7 488 L336.3 488.6Z" style="stroke-width:1.2"/>
<path class="pw" d="M338.8 484.8 L345.7 487.6 L346.5 489 L345.3 489.8 L338.7 487.8Z" style="stroke-width:1.1"/>
<path class="pk" d="M342.3 486.4 L342.1 488.8" style="stroke-width:1"/>
<path class="pw" d="M403 461.4 L404.6 459.4 L406.6 460.4 L406.4 464.6 L404 465.2Z" style="stroke-width:1.2"/>
<path class="pw" d="M406.5 461.4 L413.4 464.2 L414.2 465.6 L413 466.4 L406.4 464.4Z" style="stroke-width:1.1"/>
<path class="pk" d="M410 463 L409.8 465.4" style="stroke-width:1"/>
<path class="p" d="M380.9 517 L380.9 536.8 Q384.5 540.6 388.1 536.8 L388.1 517" style="stroke:#444"/>
<ellipse class="pw" cx="384.5" cy="516.4" rx="3.6" ry="1.7" style="stroke:#444"/>
<path class="pt" d="M380.9 518.4 L388.1 518.4" style="stroke:#666"/>
<path class="pt" d="M380.9 519.9 L388.1 519.9" style="stroke:#666"/>
<path class="pt" d="M380.9 521.4 L388.1 521.4" style="stroke:#666"/>
<path class="pt" d="M380.9 522.9 L388.1 522.9" style="stroke:#666"/>
<path class="pt" d="M380.9 524.4 L388.1 524.4" style="stroke:#666"/>
<path class="pk" d="M380.4 525 Q384.5 527.6 388.6 525" style="stroke-width:1.3"/>
<path class="p" d="M380.4 527 Q384.5 529.6 388.6 527"/>
<path class="pw" d="M392.1 544.9 L399.9 540.7 L410.5 543.8 L414.8 540.4 L426.8 544.6 L418.6 549.2 L428.9 554.1 L431.1 549.9 L434.8 556.3 L430.5 565.5 L422.6 563.4 L423.3 569 L416.2 566.9 L408.4 562.7 L401.3 566.2 L387.1 559.8 L395.6 551.3Z"/>
<path class="p" d="M398.2 548C398.5 547.5 399.9 546.4 401.3 546.6C402.6 546.8 405.2 548.2 406.2 549.2C407.3 550.1 407.9 551.4 407.8 552.3C407.7 553.2 406.6 554.1 405.8 554.9C405.1 555.6 404 556.5 403.4 556.6C402.8 556.6 401.8 555.7 402 555.1C402.2 554.6 404 553.9 404.4 553.2C404.8 552.5 404.9 551.5 404.4 550.9C403.9 550.3 402.2 549.7 401.3 549.5C400.4 549.3 399.5 550 399 549.8C398.5 549.5 397.8 548.6 398.2 548Z"/>
<path class="p" d="M407.8 548C408.1 547.6 409.3 546.6 410.5 546.9C411.7 547.2 413.9 548.8 414.9 549.8C415.9 550.7 416.5 551.6 416.3 552.6C416.2 553.6 415 554.7 414 555.7C413.1 556.7 411.4 558.2 410.5 558.4C409.6 558.6 408.6 557.5 408.9 556.8C409.2 556.1 411.6 555 412.3 554.1C413 553.3 413.5 552.8 413.2 552C412.9 551.3 411.4 550.1 410.6 549.8C409.9 549.4 409.1 550 408.6 549.8C408.2 549.5 407.5 548.5 407.8 548Z"/>
<path class="pf" d="M421.1 564.1 L423.1 563.4 L423.7 565.4 L421.7 565.9Z"/>
<ellipse class="pf" cx="397.3" cy="557.4" rx="0.5" ry="0.5"/>
<ellipse class="pf" cx="405" cy="548.6" rx="0.5" ry="0.5"/>
<path class="pt" d="M395.6 551.3 L398.4 552.7"/>
<path class="pt" d="M418.6 549.2 L416.2 550.6"/>
<path class="pw" d="M395.6 597.4C395.8 595 395.8 593.4 397 591.7C398.2 590.1 400.1 588.6 402.7 587.5C405.3 586.3 409.5 584.7 412.6 584.9C415.7 585.2 419 587.1 421.1 588.9C423.2 590.7 424.4 593.6 425.1 596C425.9 598.4 426.1 600.7 425.7 603.1C425.2 605.5 424.3 608.1 422.6 610.2C420.8 612.3 418.1 614.7 415.5 615.9C412.9 617 409.5 617.7 406.9 617.3C404.4 616.8 401.7 614.9 399.9 613C398 611.1 396.6 608.5 395.9 605.9C395.2 603.3 395.4 599.8 395.6 597.4Z"/>
<path class="pt" d="M401.3 591C401.9 592.1 404.2 594.9 404.8 597.4C405.5 599.9 405.6 603.2 405.2 605.9C404.9 608.6 403.1 612.4 402.7 613.7"/>
<path class="pt" d="M398.4 594.6C398.9 595.8 400.8 599.3 401.3 601.7C401.8 604 401.5 606.9 401.3 608.8C401 610.6 400.1 612.1 399.9 612.7"/>
<path class="pw" d="M390.2 590.6 L393.6 587.5 L399.9 590 L401.3 593.2 L397.9 596.3 L391.9 594Z" style="stroke-width:1"/>
<ellipse class="p" cx="391.9" cy="590.9" rx="1.6" ry="2.4" transform="rotate(-20 391.9 590.9)"/>
<path class="pt" d="M393.6 587.5 L394.8 590.6 L391.9 594"/>
<path class="pw" d="M407.8 584.9 L414 576.1 L417.2 575.3 L420 577.5 L420.6 580.7 L417.2 583.9 L414 582.5 L410.5 587.2Z" style="stroke-width:1"/>
<ellipse class="p" cx="417.7" cy="579" rx="2.2" ry="2.6" style="stroke-width:1.2"/>
<path class="pt" d="M414 576.1 L415.7 579.3 L414 582.5"/>
<path class="pw" d="M398.4 591.5 L401.3 589.8 L426.8 604.2 L425.1 606.8Z" style="stroke-width:1"/>
<path class="pw" d="M422.6 591.7 L428.2 586.4 L432.8 586.1 L437 588.9 L436.2 592 L432.8 591.5 L429.6 594.6 L428.9 601.7 L425.7 603.1Z" style="stroke-width:1"/>
<ellipse class="p" cx="434.5" cy="588.9" rx="2" ry="2.4" style="stroke-width:1.3"/>
<path class="pk" d="M426.8 594.6 L427.7 601.7" style="stroke-width:1.4"/>
<path class="p" d="M429.9 594 L432.8 597.4 L431.9 601.4"/>
<path class="pt" d="M421.1 588.9 L424 587.8 L425.7 590"/>
<path class="pw" d="M424.3 606.6 L426.8 604.2 L432.8 602.8 L436.2 605.4 L433.9 608.8" style="stroke-width:1"/>
<ellipse class="pw" cx="429.6" cy="609" rx="4.3" ry="4.8" style="stroke-width:1.1"/>
<ellipse class="p" cx="429.9" cy="609" rx="2.9" ry="3.4"/>
<path class="p" d="M432.8 602.8 L435.6 601.7 L436.4 603.9"/>
<path class="pw" d="M405.5 604.8 L411.5 603.4 L412.1 610.9 L406.1 612.3Z" style="stroke-width:1"/>
<path class="pf" d="M406.9 601.7 L409.8 601 L410.1 603.8 L407.2 604.5Z"/>
<path class="p" d="M406.9 617.3 L405.5 620.1 L414 618 L417.2 615.1"/>
<path class="pk" d="M405.8 618.7 L405 621.2" style="stroke-width:1.6"/>
<path class="p" d="M422.6 610.2 L424.3 612.3 L426.8 611.6"/>
<path class="pw" d="M413.5 577.5 L412.9 583.2 L415.7 584.6 L416.6 579.3Z" style="stroke-width:1"/>
<ellipse class="pw" cx="414.9" cy="578.1" rx="1.7" ry="1.3" style="stroke-width:1"/>
<path class="p" d="M401.3 589.8 L412.9 584.6 L422.6 590"/>
<path class="pt" d="M405 593.2 L414 588.9 L422 593.4"/>
<path class="pt" d="M411.5 596.8 L419.7 592.9 L425.1 596"/>
<path class="p" d="M412.6 601.7 L417.2 599.1 L422.6 602.2 L422.6 610.2"/>
<path class="pt" d="M417.2 599.1 L417.2 605.9 L422.6 610.2"/>
<path class="pf" d="M427.7 591.7 L429.6 591.2 L429.9 602.5 L427.9 603.4Z"/>
<path class="p" d="M430.5 594.6 L433.9 593.2 L434.8 597.4 L431.4 599.1Z"/>
<path class="p" d="M401.3 614.4 L408.4 616.1 L417.2 612.7"/>
<path class="pt" d="M396.7 599.1 L399.9 601.7 L399.9 611.6"/>
<path class="pk" d="M407.8 599.1 L410.4 598.5 L410.6 601.1" style="stroke-width:1.3"/>
<path class="pw" d="M428.2 573.9 L433 572.3 L433.4 578.1 L428.6 579.7Z" style="stroke-width:0.9;stroke:#333"/>
<path class="pw" d="M429.4 575.1 L432 573.9 L432.2 577.1 L429.6 578.3Z" style="stroke-width:0.5;stroke:#666;fill:#e4e4e4"/>
<path class="pk" d="M437.4 581.5 L441 583.5" style="stroke-width:1.8;stroke:#333"/>
<path class="p" d="M440.7 582.7 L441.8 584.9" style="stroke:#777"/>
<ellipse class="p" cx="351.2" cy="569.6" rx="5.1" ry="5.1" style="stroke:#707070"/>
<ellipse class="pw" cx="351.2" cy="581.4" rx="5.6" ry="2.4" transform="rotate(-5 351.2 581.4)" style="stroke-width:1"/>
<ellipse class="p" cx="351.2" cy="581.6" rx="4.2" ry="1.6" transform="rotate(-5 351.2 581.6)"/>
<path class="p" d="M345.6 581.9C345.7 582.7 346 585.3 346.7 586.5C347.4 587.6 348.7 588.7 349.8 589C350.9 589.3 352.2 589.1 353.2 588.4C354.2 587.8 355.4 586.2 356 585C356.7 583.9 356.7 582 356.9 581.4"/>
<path class="p" d="M346.7 586.5 L345.3 587.9"/>
<path class="pf" d="M336.8 588.4 L342.7 585.3 L346.1 590.7 L340.5 594.4Z"/>
<path class="pt" d="M337.9 588.1 L341.3 593.5" style="stroke:#ddd;stroke-width:0.4"/>
<path class="pt" d="M339.2 587.5 L342.6 592.9" style="stroke:#ddd;stroke-width:0.4"/>
<path class="pt" d="M340.5 586.9 L343.9 592.3" style="stroke:#ddd;stroke-width:0.4"/>
<path class="pt" d="M341.7 586.2 L345.1 591.6" style="stroke:#ddd;stroke-width:0.4"/>
<path class="pt" d="M343 585.6 L346.4 591" style="stroke:#ddd;stroke-width:0.4"/>
<path class="p" d="M336.8 589C335.9 589.5 333.2 590.9 331.7 592.1C330.2 593.3 328.6 594.7 327.7 596.1C326.8 597.5 326.5 599.6 326.3 600.3" style="stroke-width:1"/>
<path class="p" d="M340.5 594.4C339.7 594.9 337.1 596.6 335.9 597.5C334.7 598.4 333.9 599.3 333.4 600.1C332.9 600.9 332.9 601.9 332.8 602.3" style="stroke-width:1"/>
<ellipse class="pw" cx="329.7" cy="601.8" rx="3.4" ry="2.2" transform="rotate(35 329.7 601.8)" style="stroke-width:1"/>
<path class="pt" d="M327.7 597.5C328 597.8 328.8 598.8 329.4 599.2C330.1 599.6 331.3 599.9 331.7 600.1"/>
<ellipse class="p" cx="350.8" cy="606.2" rx="6.3" ry="4.1" style="stroke-width:1.3"/>
<path class="pk" d="M345.6 601.5 L347.5 603.5" style="stroke-width:1.1"/>
<path class="pk" d="M356.6 601.8 L354.6 603.5" style="stroke-width:1.1"/>
<path class="p" d="M328.6 616.2C328.9 615.4 329.8 615.5 330.5 615.6C331.3 615.8 332.5 616.5 333.1 617.3C333.7 618.1 334.2 619.4 334.2 620.5C334.2 621.5 333.7 623.1 333.1 623.6C332.5 624 331.3 623.8 330.5 623.3C329.8 622.8 328.9 621.6 328.6 620.5C328.2 619.3 328.2 617 328.6 616.2Z" style="stroke:#666"/>
<path class="pt" d="M329.1 617.3 L331.1 618.2 L333.1 617.3" style="stroke:#666"/>
<path class="p" d="M328.8 615.6 L330 614.8" style="stroke:#666"/>
<ellipse class="p" cx="527.7" cy="585.4" rx="1.9" ry="3" transform="rotate(20 527.7 585.4)" style="stroke:#999"/>
<path class="pw" d="M537.9 584.4 L541 588 L540.5 593.3 L537.4 590Z" style="stroke-width:1.1"/>
<path class="pw" d="M541 588 L557.4 574.7 L558.5 579.8 L556 585.1 L550.7 588 L548.9 591.3 L542 595.4 L540.5 593.3Z" style="stroke-width:1"/>
<path class="pw" d="M537.9 584.4 L555.3 572.6 L557.4 574.7 L541 588Z" style="stroke-width:1.2"/>
<path class="pk" d="M539.2 585.1 L555.8 573.9" style="stroke-width:1.1"/>
<path class="pt" d="M542.7 589.2 L556.9 577.5"/>
<path class="pk" d="M543 579.8 L543.8 578 L546.2 578 L546.8 579.4" style="stroke-width:1.1"/>
<path class="pk" d="M548.1 575.9 L548.9 574.5 L550.9 574.5" style="stroke-width:1.1"/>
<path class="pk" d="M552.5 587.2 L554.3 586.5 L554.8 585.1" style="stroke-width:1"/>
<path class="pk" d="M548.9 591.3 L550.3 591.3" style="stroke-width:1"/>
<path class="pf" d="M555.3 572.6 L556 571.8 L558.1 573.9 L557.4 574.7Z"/>
<path class="pw" d="M532.3 587.2 L535.4 585.9 L536.6 590 L533.5 591.3Z" style="stroke-width:1.2"/>
<path class="pk" d="M533.1 588 L534.3 590.5" style="stroke-width:1.4"/>
<path class="p" d="M534.3 593.1 L537.9 591.3 L540.5 594.1 L544.2 595 L547.4 596.2 L545.6 598.2 L540.5 599.5 L535.4 598.2Z" style="stroke-width:1.1"/>
<path class="pk" d="M536.4 595.1 L540.5 596.7 L544.6 596.2" style="stroke-width:1.5"/>
<path class="pk" d="M538 597.4 L539.5 599.2" style="stroke-width:1.1"/>
<path class="pf" d="M558.1 570.4 L560.1 570.8 L558.7 572.6Z"/>
<path class="pk" d="M542 607.4 L544.6 606.6" style="stroke-width:1.2"/>
<path class="pk" d="M544.2 606 L544.8 607.2" style="stroke-width:0.9"/>
<path class="p" d="M390.8 323.4 Q390.8 321.4 392.4 321.2 Q393.9 321.2 393.9 323.2 L393.9 330.2" style="stroke-width:1.1"/>
<path class="pw" d="M390.8 331.2 L390.8 342.3 L394.5 342.3 L394.5 331.2Z" style="stroke-width:1"/>
<path class="pf" d="M390.7 330.2 L394.6 330.2 L394.6 333.4 L390.7 333.4Z" style="fill:#111"/>
<path class="pk" d="M390.8 342.3 L394.5 342.3" style="stroke-width:1.2"/>
<path class="pk" d="M392.9 342.3 L392.9 350.4 Q392.9 352.2 391.6 351.8" style="stroke-width:1.2"/>
<path class="p" d="M424.2 300.6 Q424.2 298.6 425.8 298.4 Q427.3 298.4 427.3 300.4 L427.3 307.1" style="stroke-width:1.1"/>
<path class="pw" d="M424.2 308.1 L424.2 318.9 L427.9 318.9 L427.9 308.1Z" style="stroke-width:1"/>
<path class="pf" d="M424.1 307.1 L428 307.1 L428 310.3 L424.1 310.3Z" style="fill:#111"/>
<path class="pk" d="M424.2 318.9 L427.9 318.9" style="stroke-width:1.2"/>
<path class="pk" d="M426.3 318.9 L426.3 327 Q426.3 328.8 425 328.4" style="stroke-width:1.2"/>
<path class="p" d="M459.2 334 Q459.2 332 460.8 331.8 Q462.3 331.8 462.3 333.8 L462.3 340.8" style="stroke-width:1.1"/>
<path class="pw" d="M459.2 341.8 L459.2 352.9 L462.9 352.9 L462.9 341.8Z" style="stroke-width:1"/>
<path class="pf" d="M459.1 340.8 L463 340.8 L463 344 L459.1 344Z" style="fill:#111"/>
<path class="pk" d="M459.2 352.9 L462.9 352.9" style="stroke-width:1.2"/>
<path class="pk" d="M461.3 352.9 L461.3 360.2 Q461.3 362 460 361.6" style="stroke-width:1.2"/>
<path class="p" d="M425.6 356.6 Q425.6 354.6 427.2 354.4 Q428.7 354.4 428.7 356.4 L428.7 363.4" style="stroke-width:1.1"/>
<path class="pw" d="M425.6 364.4 L425.6 374.5 L429.3 374.5 L429.3 364.4Z" style="stroke-width:1"/>
<path class="pf" d="M425.5 363.4 L429.4 363.4 L429.4 366.6 L425.5 366.6Z" style="fill:#111"/>
<path class="pk" d="M425.6 374.5 L429.3 374.5" style="stroke-width:1.2"/>
<path class="pk" d="M427.7 374.5 L427.7 382.2 Q427.7 384 426.4 383.6" style="stroke-width:1.2"/>
<path class="pw" d="M434.9 12.8 L437.8 12.1 L442 16.1 L442 37.8 L439.2 38.2 L434.9 33.5Z" style="stroke-width:1"/>
<path class="pf" d="M436.3 15.1 L439.2 16.5 L439.2 21.2 L436.3 19.4Z"/>
<path class="pf" d="M436.3 23.6 L439.4 25.3 L439.4 28.3 L436.3 26.9Z"/>
<path class="p" d="M436.8 29.8 L439.6 31.2 L439.6 35.4 L436.8 33.5Z"/>
<path class="pt" d="M437.8 12.1 L437.8 32.1"/>
<path class="pw" d="M446 23.1 L449.7 20.3 L456.2 21.9 L456.6 31.2 L453.3 34 L446.9 32.1Z" style="stroke-width:1.2"/>
<path class="p" d="M446 23.1 L452.4 24.7 L456.2 21.9"/>
<path class="p" d="M452.4 24.7 L453.3 34"/>
<path class="pw" d="M450.3 20.3 L450.7 17.9 L453.8 17.6 L454.8 21.5" style="stroke-width:1.2"/>
<path class="pf" d="M453.3 25.5 L455.4 24.4 L455.8 30.2 L453.9 31.9Z"/>
<path class="pk" d="M447.7 32.1 L448 34.2" style="stroke-width:1"/>
<path class="pk" d="M453.3 34 L453.7 35.1" style="stroke-width:1"/>
<path class="p" d="M259.4 161.8 L262.2 160.2 L264.7 162.8 L267.4 164.6 L270.2 173.6" style="stroke-width:1.3"/>
<path class="p" d="M259.4 161.8 L261 163.2 L263.6 162.3" style="stroke-width:1.2"/>
<path class="p" d="M264.7 162.8 L264.2 164.9 L267.4 165.9" style="stroke:#555"/>
<path class="pw" d="M258.1 180 L263.6 178.1 L266.4 183.2 L261.5 186.8 L258.9 185.1Z" style="stroke:#444"/>
<path class="p" d="M258.1 180 L261 181.3 L261.5 186.8" style="stroke:#444"/>
<path class="pt" d="M261 181.3 L265.5 179.3" style="stroke:#555"/>
<path class="pw" d="M260.3 194.4C260.4 193.2 261.6 192.4 262.7 192C263.8 191.7 266 191.7 266.9 192.3C267.9 192.9 268.4 194.3 268.3 195.3C268.3 196.4 267.5 198 266.4 198.6C265.4 199.3 263.2 199.8 262.2 199.1C261.2 198.4 260.2 195.6 260.3 194.4Z" style="stroke-width:1.2"/>
<path class="p" d="M261.9 195.3C262.1 194.7 262.9 193.8 263.6 193.6C264.3 193.4 265.8 193.7 266.2 194.2C266.7 194.7 266.8 195.9 266.4 196.5C266.1 197 265.1 197.6 264.4 197.7C263.7 197.8 262.7 197.6 262.3 197.2C261.9 196.8 261.7 195.9 261.9 195.3Z" style="stroke-width:1.1"/>
<path class="pw" d="M268.3 196.3 L272.1 196.1 L273.6 197.7 L271.2 201.5 L268.3 205.7 L263.1 207.8 L261.2 205.2 L262.7 199.6Z" style="stroke-width:1.1"/>
<path class="p" d="M264.1 202.9 L268.3 201 L271.2 201.5"/>
<path class="pt" d="M268.3 201 L268.3 205.7"/>
<path class="pk" d="M261.2 205.2 L258.7 204.8 L258.4 206.7" style="stroke-width:1.4"/>
<path class="pk" d="M259.4 207.1 L258.7 209.7" style="stroke-width:1.6"/>
<path class="pk" d="M264.7 197.2 L265.7 201" style="stroke-width:1.5"/>
<path class="pw" d="M450.4 157C450.5 156.4 451 155.3 452.1 154.6C453.2 153.8 457.5 151.6 458.7 151.1C460 150.6 459.9 150.1 461.5 150.8C463.1 151.4 469.2 155 470.5 155.9C471.8 156.9 471.4 157.5 471.2 158C471 158.6 470.2 159.3 469.1 160.1C468 160.9 464.1 163.4 462.9 163.9C461.7 164.4 461.6 164.6 460.1 163.9C458.6 163.3 452.7 160 451.4 159.1C450.1 158.1 450.3 157.6 450.4 157Z" style="stroke:#333"/>
<ellipse class="pf" cx="461.1" cy="154.9" rx="0.9" ry="0.9"/>
<path class="pt" d="M455.2 157.3C455.6 157.6 457.1 158.3 457.3 158.7C457.6 159.2 456.4 159.9 456.6 160.1C456.9 160.3 458.4 159.6 459.1 159.8C459.8 159.9 460.3 161.1 460.8 161.1C461.3 161.2 461.9 160.3 462.2 160.1"/>
<path class="pk" d="M425.5 159.1 L464.2 182.9" style="stroke-width:1.7"/>
<path class="p" d="M458.7 201C457.9 201.1 455.3 200.6 453.9 201.7C452.4 202.8 450.9 205.5 450.1 207.6C449.2 209.7 448.6 212.6 448.7 214.5C448.8 216.5 449.4 218.3 450.8 219.4C452.1 220.5 455.7 220.8 456.6 221.1" style="stroke:#555"/>
<ellipse class="pw" cx="458.7" cy="211.1" rx="4.6" ry="10.2" transform="rotate(14 458.7 211.1)" style="stroke:#444"/>
<ellipse class="p" cx="458.4" cy="211.2" rx="3.2" ry="8" transform="rotate(14 458.4 211.2)" style="stroke:#666"/>
<ellipse class="p" cx="458" cy="211.4" rx="1.8" ry="5" transform="rotate(14 458 211.4)" style="stroke:#666"/>
<path class="pk" d="M461.1 201.7C461.7 202.2 463.7 202.9 464.3 204.5C464.8 206 464.7 208.8 464.3 211.1C463.9 213.3 462.2 216.8 461.8 218" style="stroke-width:1.2"/>
<path class="pt" d="M452.1 204.5C452 205.6 451.1 209.1 451.1 211.1C451.1 213 452 215.4 452.1 216.3" style="stroke:#888"/>
<path class="pw" d="M479.9 223.7C479.5 224.6 478.3 225.2 477.6 226.1C476.9 226.9 476.5 228.4 475.7 229C475 229.5 473.9 229 473 229.3C472.2 229.5 471.1 230.5 470.4 230.4C469.6 230.3 469.3 229 468.6 228.5C467.9 227.9 466.7 228 466.4 227.3C466 226.6 466.5 225.1 466.3 224C466.2 223 465.4 222.1 465.6 221.1C465.8 220.1 466.9 219.1 467.3 218.1C467.8 217 467.8 215.5 468.4 214.8C469.1 214 470.3 213.9 471.1 213.3C472 212.7 472.7 211.4 473.5 211.2C474.3 211 475.1 211.9 475.9 212.1C476.7 212.2 477.9 211.6 478.5 212.1C479.1 212.5 479 214 479.5 214.8C479.9 215.7 480.9 216.1 481 217C481.2 217.9 480.3 219.2 480.1 220.4C480 221.5 480.4 222.7 479.9 223.7Z" style="stroke-width:1"/>
<ellipse class="pf" cx="476.3" cy="219.7" rx="7" ry="9.8" transform="rotate(24 476.3 219.7)" style="fill:#2a2a2a;stroke-width:0.9"/>
<path class="pw" d="M478.8 221.3 L481.3 222.9 L480.7 224.1 L479.8 225 L478.1 222.3Z" style="stroke:none;fill:#f4f4f4"/>
<path class="pw" d="M477.5 222.9 L478.7 226.1 L477.8 226.9 L476.7 227.2 L476.5 223.5Z" style="stroke:none;fill:#f4f4f4"/>
<path class="pw" d="M475.8 223.6 L475.4 227.6 L474.4 227.8 L473.5 227.4 L474.9 223.6Z" style="stroke:none;fill:#f4f4f4"/>
<path class="pw" d="M474.3 223.3 L472.4 226.9 L471.5 226.6 L471 225.6 L473.7 222.7Z" style="stroke:none;fill:#f4f4f4"/>
<path class="pw" d="M473.3 222.1 L470.4 224.4 L469.9 223.5 L470 222.2 L473.1 221Z" style="stroke:none;fill:#f4f4f4"/>
<path class="pw" d="M473.1 220.2 L470 220.6 L470 219.3 L470.6 218.1 L473.4 218.9Z" style="stroke:none;fill:#f4f4f4"/>
<path class="pw" d="M473.8 218.1 L471.3 216.6 L471.8 215.3 L472.7 214.5 L474.5 217.1Z" style="stroke:none;fill:#f4f4f4"/>
<path class="pw" d="M475.1 216.5 L473.9 213.4 L474.8 212.5 L475.8 212.2 L476.1 216Z" style="stroke:none;fill:#f4f4f4"/>
<path class="pw" d="M476.7 215.8 L477.2 211.9 L478.2 211.6 L479 212 L477.7 215.9Z" style="stroke:none;fill:#f4f4f4"/>
<path class="pw" d="M478.2 216.1 L480.2 212.5 L481 212.9 L481.5 213.8 L478.9 216.8Z" style="stroke:none;fill:#f4f4f4"/>
<path class="pw" d="M479.2 217.4 L482.1 215 L482.6 216 L482.6 217.2 L479.4 218.5Z" style="stroke:none;fill:#f4f4f4"/>
<path class="pw" d="M479.4 219.3 L482.5 218.8 L482.5 220.1 L482 221.3 L479.1 220.5Z" style="stroke:none;fill:#f4f4f4"/>
<ellipse class="pw" cx="476.3" cy="219.7" rx="1.9" ry="2.6" transform="rotate(24 476.3 219.7)" style="stroke:none"/>
<ellipse class="pw" cx="485.9" cy="225.8" rx="3.6" ry="4.2" transform="rotate(25 485.9 225.8)" style="stroke:#777"/>
<ellipse class="p" cx="486.5" cy="226" rx="2.1" ry="2.6" transform="rotate(25 486.5 226)" style="stroke:#888"/>
<path class="pk" d="M491.6 223.6 L495.2 225.6" style="stroke-width:1.4"/>
<path class="pk" d="M494 230.8 L497.6 232.8" style="stroke-width:1.4"/>
<path class="pk" d="M487.1 233.4 L490.7 235.4" style="stroke-width:1.4"/>
<path class="pk" d="M476.3 72.2 L484.9 72.5" style="stroke-width:2.3;stroke:#444"/>
<path class="pk" d="M476.9 72.2 L484.4 72.5" style="stroke-width:0.8;stroke:#bbb"/>
<path class="pk" d="M491.4 64.4 L491.6 68.3" style="stroke-width:2;stroke:#666"/>
<path class="pk" d="M487.7 77.6 L488 81.2" style="stroke-width:1.7;stroke:#555"/>
<path class="pf" d="M484.4 69.9C484.7 68.8 485.6 68.2 486.5 67.7C487.4 67.2 488.8 66.9 489.8 67C490.8 67.2 491.9 67.8 492.6 68.8C493.3 69.8 493.7 71.8 493.8 73C493.9 74.1 493.6 75.2 493.1 76C492.7 76.8 491.9 77.5 490.9 77.7C490 77.9 488.6 77.7 487.6 77.2C486.7 76.6 485.7 75.7 485.1 74.4C484.6 73.2 484.2 71 484.4 69.9Z"/>
<path class="pw" d="M488.8 70.2 L490.3 69.9 L490.5 73.8 L489.1 74.2Z" style="stroke:none;fill:#ddd"/>
<path class="p" d="M491.4 69.4 L492.5 70.2 L492.6 73.2" style="stroke:#999;stroke-width:0.6"/>
<ellipse class="pf" cx="491.3" cy="85.5" rx="3.6" ry="3.9"/>
<path class="p" d="M490.2 84.2 L492.1 84.2" style="stroke:#ddd;stroke-width:0.7"/>
<path class="p" d="M490.5 86.5 L490.6 87.8" style="stroke:#ccc;stroke-width:0.6"/>
<path class="p" d="M491.9 86.5 L492 87.8" style="stroke:#ccc;stroke-width:0.6"/>
<path class="p" d="M489.2 88C489.2 89.9 489.3 95.7 489.5 99.6C489.7 103.4 489.3 107.3 490.2 111.2C491.1 115 492.8 119.4 494.8 122.7C496.8 126.1 500 129.4 502.2 131.3C504.5 133.2 506.5 134.1 508.4 134C510.2 133.9 511.9 132.5 513.3 130.7C514.7 128.8 515.9 124.8 516.6 122.7C517.3 120.6 517.4 118.9 517.6 118.1" style="stroke:#333"/>
<path class="p" d="M493.8 88C493.8 89.9 493.7 96 493.8 99.6C493.9 103.2 493.7 106.5 494.5 109.8C495.2 113.1 496.8 116.7 498.4 119.4C500.1 122.2 502.7 124.9 504.4 126.4C506 127.8 507.2 128.1 508.4 128C509.5 127.9 510.2 127.2 511 125.7C511.8 124.2 512.6 120.5 513 119.1C513.4 117.7 513.3 117.7 513.3 117.4" style="stroke:#333"/>
<ellipse class="pw" cx="515.5" cy="117.8" rx="2.2" ry="1.2" transform="rotate(10 515.5 117.8)" style="stroke:#333"/>
<path class="pw" d="M576.9 48.4C577.6 47.4 579.1 46.7 580.4 46.7C581.7 46.7 584.1 47.5 584.5 48.4C585 49.2 583.9 50.5 583.2 51.6C582.5 52.8 581.3 54.2 580.4 55C579.5 55.7 578.3 56.3 577.6 56C576.9 55.6 576.4 53.9 576.3 52.6C576.2 51.4 576.3 49.3 576.9 48.4Z" style="stroke-width:1.3"/>
<ellipse class="p" cx="579.9" cy="49.7" rx="1.3" ry="1.8" transform="rotate(20 579.9 49.7)" style="stroke-width:1.1"/>
<path class="pk" d="M583.7 48.7 L585.9 49.3" style="stroke-width:1"/>
<path class="p" d="M578.4 56C578.5 56.9 578.9 59.2 578.6 61.6C578.3 63.9 577.7 67.8 576.6 70.2C575.5 72.5 574.4 74.4 572 75.6C569.6 76.9 563.7 77.4 562.1 77.8" style="stroke-width:2.1;stroke:#333"/>
<path class="p" d="M578.4 56C578.5 56.9 578.9 59.2 578.6 61.6C578.3 63.9 577.7 67.8 576.6 70.2C575.5 72.5 574.4 74.4 572 75.6C569.6 76.9 563.7 77.4 562.1 77.8" style="stroke-width:0.5;stroke:#cfcfcf"/>
<path class="p" d="M549.8 77.4C550.1 76.6 551.7 75.7 552.8 75.8C553.9 75.8 556.1 76.9 556.5 77.8C556.8 78.6 555.6 80.2 554.8 80.7C554 81.3 552.3 81.6 551.5 81.1C550.7 80.5 549.6 78.3 549.8 77.4Z" style="stroke-width:1.5"/>
<path class="pf" d="M554.8 80.7 L559.4 83.7 L568.4 84.7 L569 81.4 L563.1 80.7 L558.4 79.1Z"/>
<path class="pt" d="M560.1 81.7 L562.4 82.4" style="stroke:#fff"/>
<path class="pw" d="M539.9 157.1C539.9 157.4 540.1 160.9 540.3 161.4C540.5 161.9 540.9 162.8 543.4 164.5C545.9 166.2 574.9 185.6 577.4 187.2C580 188.8 581.1 188.6 581.7 188.6C582.2 188.5 583.5 188.6 585.9 186.5C588.3 184.3 615.5 159 617.8 156.7C620.1 154.4 620 152.9 620.2 152.5C620.4 152 620.7 149.8 620.8 149.6" style="stroke-width:1.1"/>
<path class="pt" d="M540.9 160.5C543.4 162.1 576.1 183 578.8 184.6C581.6 186.3 581.5 185.5 582 185.5C582.4 185.4 582.8 185.9 585.2 183.8C587.7 181.7 616.3 155.9 618.5 153.9"/>
<path class="pw" d="M539.9 156.7C539.9 156.3 539.4 155.8 542 153.9C544.6 151.9 576.8 129.5 579.5 127.7C582.3 125.9 582.4 126.7 582.8 126.7C583.3 126.7 583.8 126.3 586.2 127.7C588.6 129 616.2 145.3 618.5 146.8C620.8 148.3 620.8 149.3 620.8 149.6C620.8 150 620.9 150.3 618.5 152.5C616.1 154.6 587.7 180.1 585.2 182.2C582.7 184.3 581.9 184.3 581.4 184.3C580.9 184.4 580.4 184.5 577.7 182.9C575.1 181.3 544.2 162 541.7 160.3C539.2 158.5 539.9 157.1 539.9 156.7Z" style="stroke-width:1.1"/>
<path class="p" d="M542.7 156.9C542.8 156.5 542.3 156.4 544.8 154.6C547.4 152.8 578 131.6 580.5 129.9C583.1 128.2 582.5 129.1 582.8 129.1C583.1 129.1 583.2 128.7 585.4 129.9C587.6 131.2 613.6 146.5 615.7 147.8C617.8 149.1 617.1 149.5 617.1 149.8C617.1 150 617.9 149.8 615.7 151.8C613.5 153.8 586.8 177.8 584.5 179.8C582.2 181.8 581.8 181.5 581.4 181.5C581 181.5 580.8 181.9 578.3 180.4C575.8 178.9 546.4 161 544 159.4C541.6 157.8 542.7 157.2 542.7 156.9Z"/>
<path class="pk" d="M563.2 146.1 L591.6 164.5" style="stroke-width:1.1"/>
<path class="pk" d="M572.5 139 L599.8 155.4" style="stroke-width:1.3"/>
<path class="pt" d="M555 152 L563.2 146.1 L572.5 139 L580.5 133.3"/>
<path class="pt" d="M591.6 164.5 L599.8 155.4 L611.4 147.5"/>
<path class="pt" d="M563.2 146.1 L562.1 143.2 L557.3 142.1 L556.5 144.9"/>
<path class="pk" d="M591.6 131.2 L611.4 143" style="stroke-width:1.2"/>
<path class="p" d="M593 134.1 L610 144"/>
<path class="pt" d="M596.5 135 L597.3 137"/>
<path class="pt" d="M598.2 136 L599 138"/>
<path class="pt" d="M600 137 L600.7 139"/>
<path class="pt" d="M601.6 138 L602.4 140"/>
<path class="pt" d="M603.4 139 L604.1 141"/>
<path class="pt" d="M605 140 L605.8 142"/>
<path class="pt" d="M606.8 141 L607.5 143"/>
<path class="pt" d="M608.5 142 L609.2 144"/>
<path class="pw" d="M591.6 131.9 L592.7 129.8 L595.3 130.5 L595 134.1" style="stroke-width:1.1"/>
<path class="pw" d="M610 143.2 L611.7 141.1 L614 142.1 L613.4 145.4" style="stroke-width:1.1"/>
<ellipse class="pf" cx="594.1" cy="143" rx="1.2" ry="1.2"/>
<ellipse class="pf" cx="575.3" cy="157.1" rx="1" ry="1"/>
<path class="p" d="M546.2 157.7 L551.9 153.9 L559 157.7 L553.3 162Z" style="stroke-width:1.1"/>
<path class="pf" d="M549.1 158.1 L552.2 156 L556.5 158.3 L553.3 160.5Z"/>
<path class="p" d="M554 163.1 L560.4 158.8 L571 164.5 L565.4 169.5Z" style="stroke-width:1.1"/>
<path class="pt" d="M556.9 163.4 L560.7 161 L567.5 164.5 L564.7 167.3Z"/>
<path class="p" d="M562.1 157.7 L566.1 155.3 L571.8 158.6 L568.2 161.4Z"/>
<path class="pk" d="M559 157.7 L562.1 161.4 L568.9 162.8 L571.8 161" style="stroke-width:1.2"/>
<path class="p" d="M567.5 171.6 L576 164.5 L581.7 161 L585.9 163.1 L578.8 170.2 L573.9 175.8Z" style="stroke-width:1.1"/>
<path class="pk" d="M578.8 162.4 L580.3 167.3 L574.6 173" style="stroke-width:1.3"/>
<path class="p" d="M581.7 161 L583.4 165.2 L583.1 170.2 L578.1 175.8"/>
<path class="p" d="M585.9 163.1 L589.5 165.2 L591.6 168.8 L585.9 174.4 L581.7 177.3" style="stroke-width:1.1"/>
<path class="pk" d="M587.3 165.9 L588 170.9" style="stroke-width:1.3"/>
<path class="p" d="M571.8 175.8 L581.7 178.7 L591.6 171.6 L598.7 167.3"/>
<path class="pk" d="M544.8 161.7 L547.7 160.5 L550.2 162.8" style="stroke-width:1.1"/>
<path class="pk" d="M555.5 168.8 L559 167.3 L562.1 169.9" style="stroke-width:1.1"/>
<path class="pk" d="M567.5 176.6 L570.3 175.6 L573.9 178.4" style="stroke-width:1.1"/>
<path class="pt" d="M593 167.3 L604.3 158.8 L615.7 152.5"/>
<path class="pt" d="M540.6 162.4C543.1 164 575.8 184.7 578.6 186.3C581.3 188 581.5 187.3 582 187.2C582.4 187.1 583.2 187.3 585.6 185.2C588.1 183 616.9 156.9 619.1 154.9"/>
<path class="pk" d="M546.2 164.2 L576 183.2" style="stroke-width:1.2;stroke-dasharray:3 2.2 1.5 1.8 4 2.4"/>
<path class="pk" d="M587.3 182.2 L615.7 156.3" style="stroke-width:1;stroke-dasharray:2.5 3 1.2 2.2"/>
<path class="pt" d="M581.4 184.3 L581.7 188.6"/>
<path class="pt" d="M541.7 160.3 L540.9 161.4"/>
<path class="pt" d="M549.8 151.8 L554 154.6 L561.8 149.2"/>
<path class="pt" d="M573.2 141.1 L580.5 135.5 L591.6 131.9"/>
<path class="pt" d="M601.5 154.6 L611.7 148.2 L615 149.6"/>
<path class="pw" d="M603.8 122.3 L606.9 122.3 L604.3 132.6 L601.5 132.2Z" style="stroke-width:1"/>
<path class="pf" d="M603.8 122.3 L606.9 122.3 L606.6 124 L603.5 123.7Z"/>
<text class="t" x="282.6" y="73.5" textLength="24.1" lengthAdjust="spacingAndGlyphs">010 0</text>
<text class="t" x="282.6" y="84.1" textLength="24.1" lengthAdjust="spacingAndGlyphs">010 1</text>
<text class="t" x="282.6" y="94.6" textLength="24.1" lengthAdjust="spacingAndGlyphs">910 0</text>
<text class="t" x="462.6" y="14.9" textLength="24.1" lengthAdjust="spacingAndGlyphs">421 2</text>
<text class="t" x="462.6" y="25.6" textLength="24.1" lengthAdjust="spacingAndGlyphs">421 0</text>
<text class="t" x="438.6" y="50" textLength="24.1" lengthAdjust="spacingAndGlyphs">571 1</text>
<text class="t" x="438.6" y="62.3" textLength="24.1" lengthAdjust="spacingAndGlyphs">702 2</text>
<text class="t" x="438.6" y="73.4" textLength="24.1" lengthAdjust="spacingAndGlyphs">900 0</text>
<text class="t" x="506.8" y="76.6" textLength="24.1" lengthAdjust="spacingAndGlyphs">571 0</text>
<text class="t" x="506.8" y="91" textLength="24.1" lengthAdjust="spacingAndGlyphs">701 0</text>
<text class="t" x="588.7" y="31.7" textLength="24.1" lengthAdjust="spacingAndGlyphs">490 1</text>
<text class="t" x="588.7" y="42.4" textLength="24.1" lengthAdjust="spacingAndGlyphs">490 0</text>
<text class="t" x="606" y="100.6" textLength="24.1" lengthAdjust="spacingAndGlyphs">712 9</text>
<text class="t" x="606" y="113" textLength="24.1" lengthAdjust="spacingAndGlyphs">712 4</text>
<text class="t" x="416.9" y="151.2" textLength="24.1" lengthAdjust="spacingAndGlyphs">707 0</text>
<text class="t" x="479.2" y="181.6" textLength="24.1" lengthAdjust="spacingAndGlyphs">707 1</text>
<text class="t" x="479.2" y="193.1" textLength="24.1" lengthAdjust="spacingAndGlyphs">191 2</text>
<text class="t" x="507.8" y="230.2" textLength="24.1" lengthAdjust="spacingAndGlyphs">941 2</text>
<text class="t" x="318.3" y="173.8" textLength="24.1" lengthAdjust="spacingAndGlyphs">191 0</text>
<text class="t" x="283.2" y="187.9" textLength="24.1" lengthAdjust="spacingAndGlyphs">623 3</text>
<text class="t" x="283.2" y="218" textLength="24.1" lengthAdjust="spacingAndGlyphs">271 0</text>
<text class="t" x="283.2" y="229.4" textLength="24.1" lengthAdjust="spacingAndGlyphs">910 3</text>
<text class="t" x="369.4" y="280.8" textLength="24.1" lengthAdjust="spacingAndGlyphs">191 1</text>
<text class="t" x="369.4" y="292.2" textLength="24.1" lengthAdjust="spacingAndGlyphs">910 6</text>
<text class="t" x="369.4" y="304.2" textLength="24.1" lengthAdjust="spacingAndGlyphs">910 7</text>
<text class="t" x="368.1" y="316.2" textLength="24.1" lengthAdjust="spacingAndGlyphs">930 2</text>
<text class="t" x="223.8" y="343.2" textLength="24.1" lengthAdjust="spacingAndGlyphs">272 0</text>
<text class="t" x="223.8" y="368.1" textLength="24.1" lengthAdjust="spacingAndGlyphs">061 0</text>
<text class="t" x="280.9" y="377.8" textLength="24.1" lengthAdjust="spacingAndGlyphs">910 4</text>
<text class="t" x="280.9" y="389.1" textLength="24.1" lengthAdjust="spacingAndGlyphs">941 1</text>
<text class="t" x="282.3" y="411.4" textLength="24.1" lengthAdjust="spacingAndGlyphs">953 2</text>
<text class="t" x="282.3" y="423.8" textLength="24.1" lengthAdjust="spacingAndGlyphs">953 1</text>
<text class="t" x="282.3" y="436.2" textLength="24.1" lengthAdjust="spacingAndGlyphs">953 0</text>
<text class="t" x="282.3" y="448.1" textLength="24.1" lengthAdjust="spacingAndGlyphs">200 0</text>
<text class="t" x="282.3" y="459.6" textLength="24.1" lengthAdjust="spacingAndGlyphs">993 1</text>
<text class="t" x="604.7" y="254.7" textLength="24.1" lengthAdjust="spacingAndGlyphs">201 0</text>
<text class="t" x="604.7" y="267" textLength="24.1" lengthAdjust="spacingAndGlyphs">953 0</text>
<text class="t" x="604.7" y="278.6" textLength="24.1" lengthAdjust="spacingAndGlyphs">953 2</text>
<text class="t" x="604.7" y="290.8" textLength="24.1" lengthAdjust="spacingAndGlyphs">953 1</text>
<text class="t" x="605.7" y="317.8" textLength="24.1" lengthAdjust="spacingAndGlyphs">941 1</text>
<text class="t" x="605.7" y="328.6" textLength="24.1" lengthAdjust="spacingAndGlyphs">910 4</text>
<text class="t" x="580.2" y="360.4" textLength="24.1" lengthAdjust="spacingAndGlyphs">451 0</text>
<text class="t" x="580.2" y="372.2" textLength="24.1" lengthAdjust="spacingAndGlyphs">691 0</text>
<text class="t" x="489.4" y="362.3" textLength="24.1" lengthAdjust="spacingAndGlyphs">290 0</text>
<text class="t" x="489.4" y="373.4" textLength="24.1" lengthAdjust="spacingAndGlyphs">223 0</text>
<text class="t" x="604.3" y="479.3" textLength="24.1" lengthAdjust="spacingAndGlyphs">221 1</text>
<text class="t" x="604.3" y="490.5" textLength="24.1" lengthAdjust="spacingAndGlyphs">910 6</text>
<text class="t" x="604.3" y="513.7" textLength="24.1" lengthAdjust="spacingAndGlyphs">910 2</text>
<text class="t" x="604.3" y="525.7" textLength="24.1" lengthAdjust="spacingAndGlyphs">061 1</text>
<text class="t" x="604.3" y="537.4" textLength="24.1" lengthAdjust="spacingAndGlyphs">910 7</text>
<text class="t" x="469.9" y="512.2" textLength="24.1" lengthAdjust="spacingAndGlyphs">220 0</text>
<text class="t" x="469.2" y="536.6" textLength="24.1" lengthAdjust="spacingAndGlyphs">962 0</text>
<text class="t" x="469.2" y="550" textLength="24.1" lengthAdjust="spacingAndGlyphs">910 6</text>
<text class="t" x="469.2" y="562.9" textLength="24.1" lengthAdjust="spacingAndGlyphs">910 5</text>
<text class="t" x="469.2" y="575.1" textLength="24.1" lengthAdjust="spacingAndGlyphs">400 0</text>
<text class="t" x="469.2" y="586.9" textLength="24.1" lengthAdjust="spacingAndGlyphs">794 0</text>
<text class="t" x="469.2" y="599.1" textLength="24.1" lengthAdjust="spacingAndGlyphs">753 0</text>
<text class="t" x="469.2" y="611.2" textLength="24.1" lengthAdjust="spacingAndGlyphs">910 1</text>
<text class="t" x="366.9" y="481.4" textLength="24.1" lengthAdjust="spacingAndGlyphs">086 5</text>
<text class="t" x="408.3" y="529.8" textLength="24.1" lengthAdjust="spacingAndGlyphs">900 6</text>
<text class="t" x="282.3" y="569.4" textLength="24.1" lengthAdjust="spacingAndGlyphs">081 4</text>
<text class="t" x="282.3" y="582.8" textLength="24.1" lengthAdjust="spacingAndGlyphs">754 1</text>
<text class="t" x="282.3" y="594.9" textLength="24.1" lengthAdjust="spacingAndGlyphs">754 0</text>
<text class="t" x="282.3" y="610.7" textLength="24.1" lengthAdjust="spacingAndGlyphs">900 3</text>
<text class="t" x="282.3" y="623.2" textLength="24.1" lengthAdjust="spacingAndGlyphs">901 0</text>
<text class="t2" x="568.8" y="626" textLength="59.3" lengthAdjust="spacingAndGlyphs">8593 908 18074</text>
<path class="l" d="M312.5 69.6 L321.5 69.6 L334.2 58.3"/>
<path class="l" d="M312.5 80.2 L324 80.2 L330 105.7"/>
<path class="l" d="M313 90.1 L309 111.8"/>
<path class="l" d="M439.2 9.5 L439.2 12.5"/>
<path class="l" d="M439.2 10.9 L462.3 10.9"/>
<path class="l" d="M457.6 22.2 L461.8 22.2"/>
<path class="l" d="M438.2 46.5 L435.4 46.5 L435.4 80.5"/>
<path class="l" d="M469.1 59.2 L469.1 79.2"/>
<path class="l" d="M457.4 75.3 L457.4 87.8"/>
<path class="l" d="M495.6 73.1 L505.5 73.1"/>
<path class="l" d="M497.3 87.5 L505.5 87.5"/>
<path class="l" d="M588.2 27.4 L556.4 27.4 L556.4 71.2"/>
<path class="l" d="M588.2 38.4 L577.6 38.4 L577.6 45.5"/>
<path class="l" d="M605.2 96.3 L569.2 96.3 L569.2 127.7"/>
<path class="l" d="M605.7 109.2 L604.9 109.8 L604.9 121.1"/>
<path class="l" d="M446.8 147.7 L455.8 147.7 L459.7 154.7"/>
<path class="l" d="M477.9 178.6 L468.8 178.6 L464.9 182.7"/>
<path class="l" d="M347.7 169.7 L357.1 169.7 L361.1 176.1"/>
<path class="l" d="M281.4 214.9 L277 214.9 L249.7 236.5"/>
<path class="l" d="M281.4 226.1 L277 226.1 L231.6 261.2"/>
<path class="l" d="M367.9 278.1 L362.7 278.1 L358.8 258.1"/>
<path class="l" d="M366.6 287.9 L358.8 287.9 L330.3 272.3"/>
<path class="l" d="M366.6 300.9 L357.5 300.9 L343.2 293.1"/>
<path class="l" d="M397.9 312.2 L424.2 312.2"/>
<path class="l" d="M250.3 339.1 L262.2 339.1 L262.2 317.8"/>
<path class="l" d="M253.6 364.5 L269.2 364.5 L279.6 358.1"/>
<path class="l" d="M310.5 374.3 L320.4 374.3 L333.6 343.5"/>
<path class="l" d="M311.3 385.6 L321.2 385.6 L344.5 346.5"/>
<path class="l" d="M312.6 407.6 L320.4 407.6 L367.5 362.4"/>
<path class="l" d="M312.6 419.8 L320.4 419.8 L375.8 364.1"/>
<path class="l" d="M312.6 432.2 L319.6 432.2 L382.4 367.4"/>
<path class="l" d="M312.6 444.6 L319.6 444.6 L372.5 398.8"/>
<path class="l" d="M312.6 455.3 L322.9 455.3 L395.6 442.6"/>
<path class="l" d="M603.6 251.2 L596.4 251.2 L549.6 283.6"/>
<path class="l" d="M603.6 263.6 L596.4 263.6 L548.3 305.7"/>
<path class="l" d="M603.6 275.3 L595 275.3 L557.4 309.6"/>
<path class="l" d="M603.6 287.5 L595 287.5 L563.9 314.8"/>
<path class="l" d="M604.2 314 L596.4 314 L587.3 327.8"/>
<path class="l" d="M604.2 325.2 L599 325.2 L595 330.4"/>
<path class="l" d="M579 356.4 L570.4 356.4 L560 344.2"/>
<path class="l" d="M579 368.6 L569.1 368.6 L552.2 351.2"/>
<path class="l" d="M488.1 358.4 L484.2 358.4 L484.2 383.6"/>
<path class="l" d="M517.9 369.4 L523.9 369.4 L523.9 383.6"/>
<path class="l" d="M603.4 475.5 L601 475.5 L601 425.5"/>
<path class="l" d="M603.4 487 L600.1 487 L595.2 480.4"/>
<path class="l" d="M603.4 510.5 L597.6 510.5"/>
<path class="l" d="M603.4 521.7 L592.7 521.7 L576.2 505.2"/>
<path class="l" d="M603.1 533.3 L592.7 533.3 L555.1 523.9"/>
<path class="l" d="M500.3 508.1 L510.1 508.1 L511.4 483.9"/>
<path class="l" d="M468 532.2 L459 532.2 L433 559"/>
<path class="l" d="M468 546 L459 546 L435.6 570.6"/>
<path class="l" d="M468 559.5 L459 559.5 L440.3 580.3"/>
<path class="l" d="M468 571.4 L460.3 571.4 L434.3 604.4"/>
<path class="l" d="M498.9 595.4 L534.3 595.4"/>
<path class="l" d="M498.9 607.3 L543.1 607.3"/>
<path class="l" d="M365.9 477.4 L356 477.4 L346.9 485.7"/>
<path class="l" d="M389 526.2 L407.2 526.2"/>
<path class="l" d="M311.8 565.6 L322.5 565.6 L331.7 557.8"/>
<path class="l" d="M312.1 591.4 L333.1 591.4"/>
<path class="l" d="M312.1 619.7 L323.9 619.7"/>
<path class="l" d="M312.1 607.1 L342.3 607.1"/>
<path class="l" d="M555.5 378.8 L540 442.5"/>
<path class="l" d="M550.6 409.3 L481.2 421.2"/>
<path class="lg" d="M312.5 579.4 L323.9 579.4 L344.4 571.3"/>
<path class="lg" d="M498.9 583 L525.4 583"/>
<path class="l" d="M477.9 189.7 L468.8 189.7 Q464 192 462.3 202.7"/>
<path class="l" d="M539 439.2 L540 443 L542.6 440"/>
<path class="l" d="M568.2 124.5 L569.2 128 L570.2 124.5"/>
<path class="l" d="M276.4 169.4 Q280.6 170 280.6 173 L280.6 182 Q280.6 184.3 282.3 184.5 Q280.6 184.8 280.6 187 L280.6 196 Q280.6 199 276.4 199.6"/>
<path class="l" d="M497.4 207.9 Q501.3 208.6 501.3 212 L501.3 223 Q501.3 225.8 503.6 226.1 Q501.3 226.4 501.3 229 L501.3 240 Q501.3 243.6 497.4 244.3"/>
<ellipse class="l" cx="567" cy="558.3" rx="6.6" ry="6.6"/>
<text class="t3" x="564.6" y="561.2" textLength="4.6" lengthAdjust="spacingAndGlyphs">C</text>
<path class="l" d="M563.6 564.2 L558.6 572"/>
</svg>
</body></html>
